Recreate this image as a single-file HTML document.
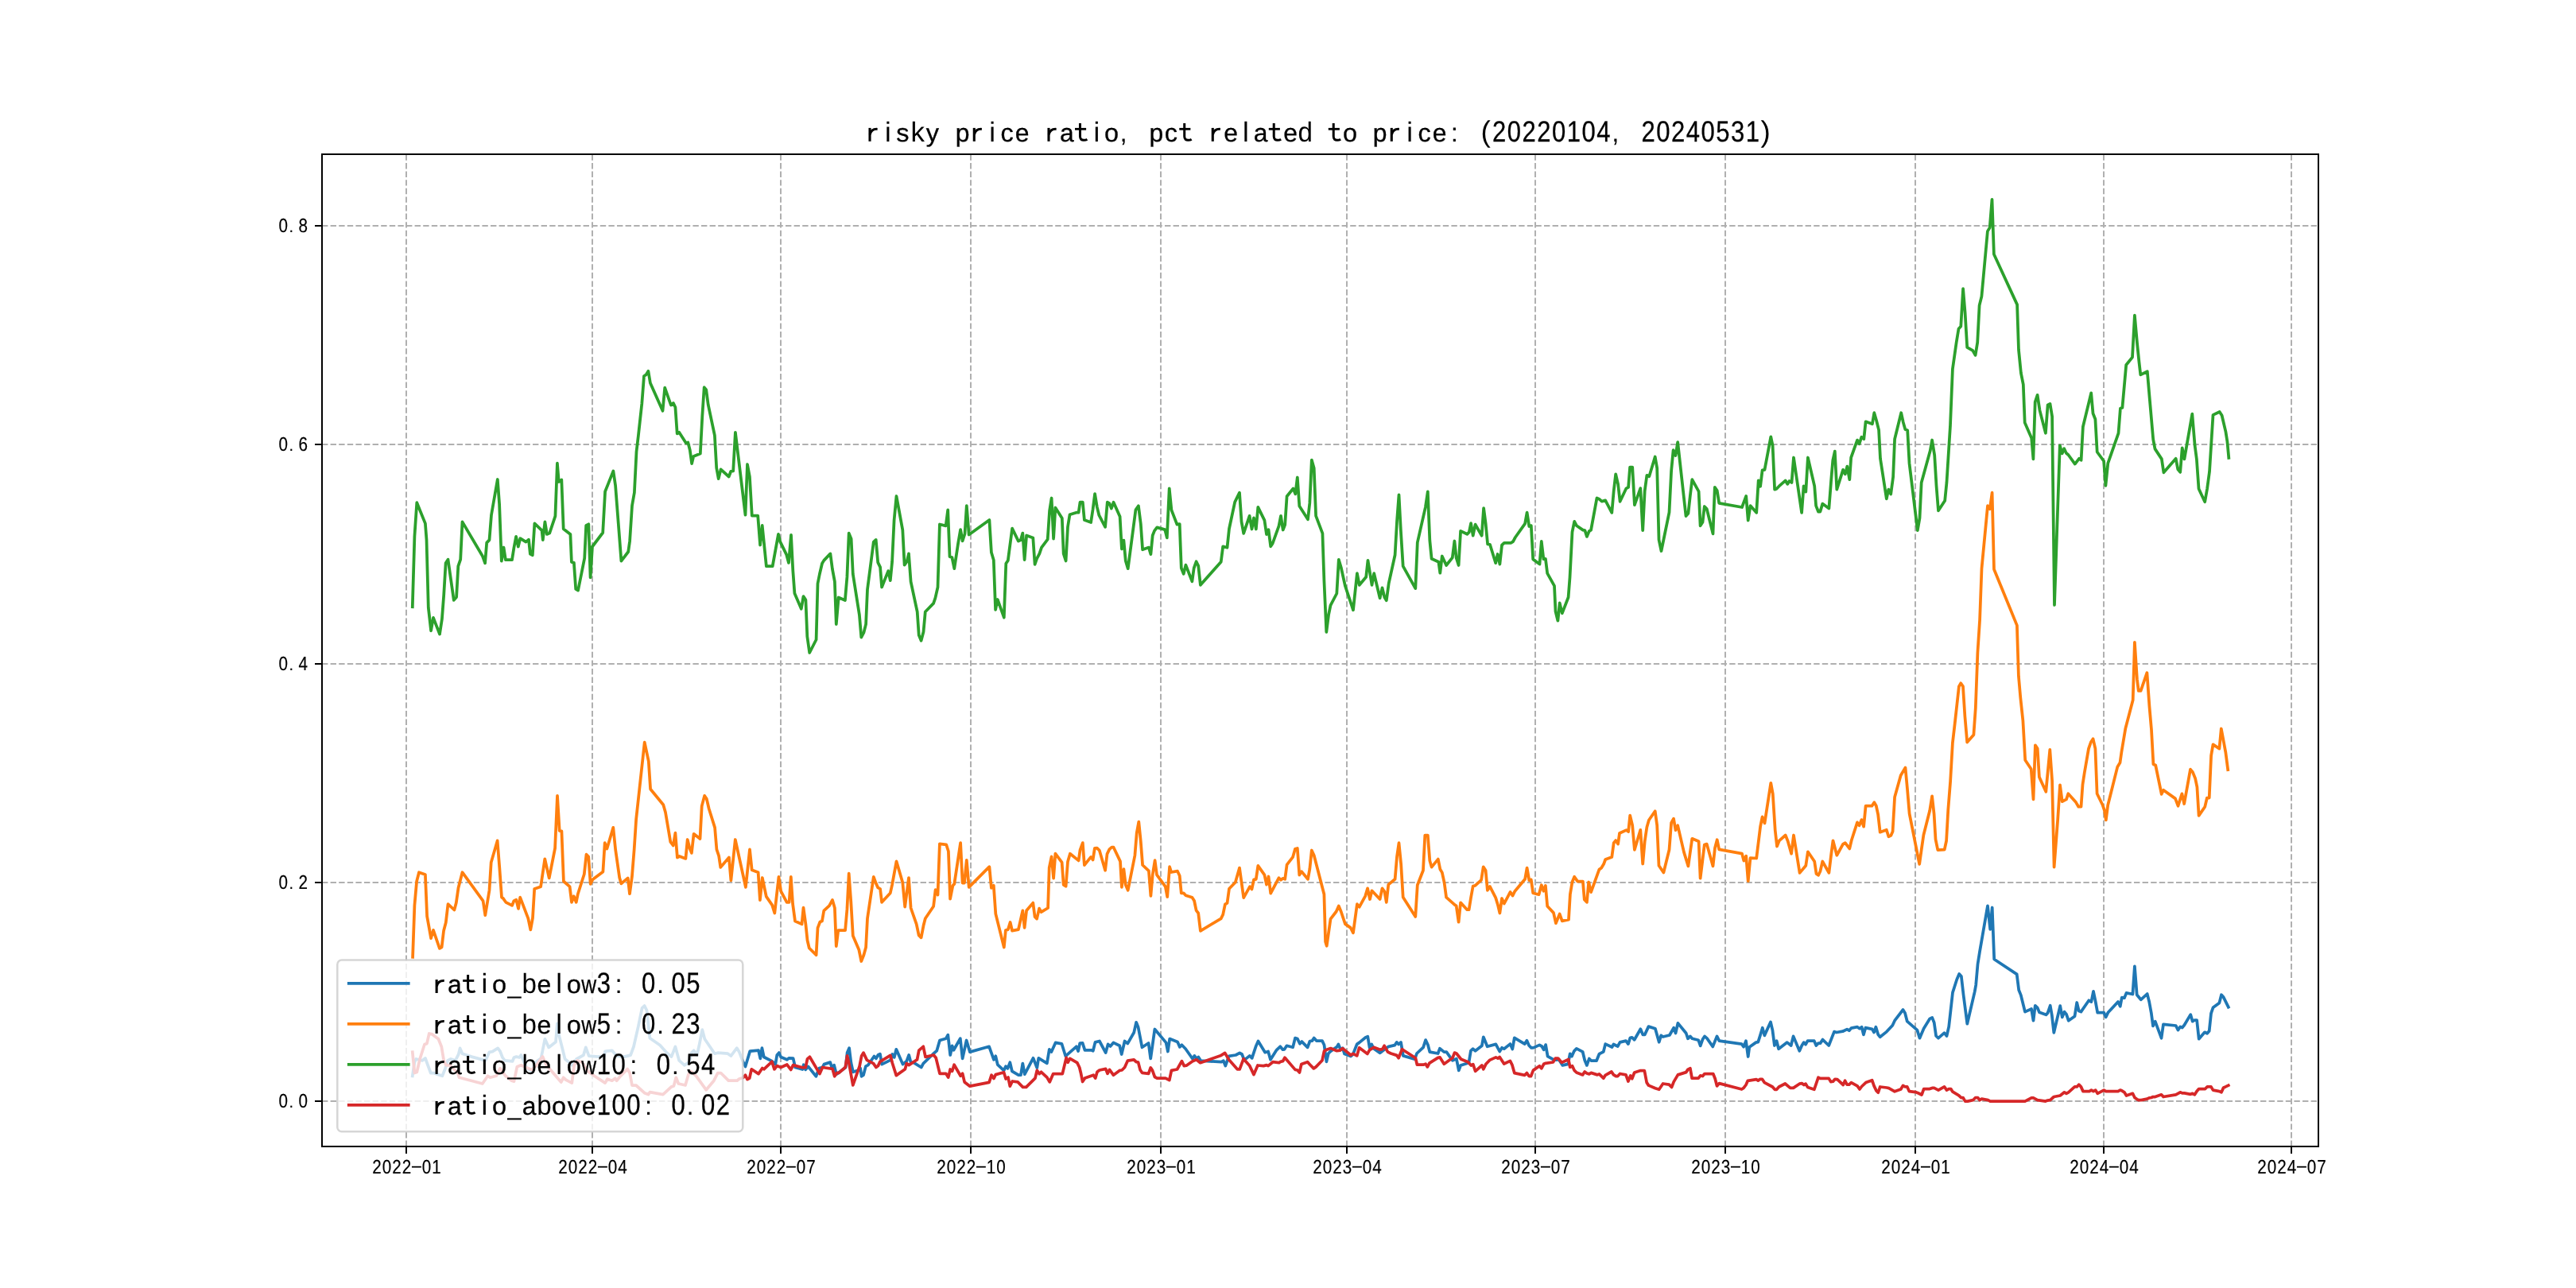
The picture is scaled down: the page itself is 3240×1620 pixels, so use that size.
<!DOCTYPE html>
<html><head><meta charset="utf-8"><title>chart</title>
<style>html,body{margin:0;padding:0;background:#fff;}body{width:3240px;height:1620px;overflow:hidden;font-family:"Liberation Sans",sans-serif;}svg{display:block;}text{text-rendering:geometricPrecision;}svg{will-change:transform;opacity:0.999;}</style></head>
<body>
<svg width="3240" height="1620" viewBox="0 0 3240 1620" font-family="Liberation Sans, sans-serif">
<rect x="0" y="0" width="3240" height="1620" fill="#ffffff"/>
<line x1="511.00" y1="1442.0" x2="511.00" y2="194.0" stroke="#b0b0b0" stroke-width="2" stroke-dasharray="7.4 3.2" fill="none"/>
<line x1="745.00" y1="1442.0" x2="745.00" y2="194.0" stroke="#b0b0b0" stroke-width="2" stroke-dasharray="7.4 3.2" fill="none"/>
<line x1="982.00" y1="1442.0" x2="982.00" y2="194.0" stroke="#b0b0b0" stroke-width="2" stroke-dasharray="7.4 3.2" fill="none"/>
<line x1="1221.00" y1="1442.0" x2="1221.00" y2="194.0" stroke="#b0b0b0" stroke-width="2" stroke-dasharray="7.4 3.2" fill="none"/>
<line x1="1460.00" y1="1442.0" x2="1460.00" y2="194.0" stroke="#b0b0b0" stroke-width="2" stroke-dasharray="7.4 3.2" fill="none"/>
<line x1="1694.00" y1="1442.0" x2="1694.00" y2="194.0" stroke="#b0b0b0" stroke-width="2" stroke-dasharray="7.4 3.2" fill="none"/>
<line x1="1931.00" y1="1442.0" x2="1931.00" y2="194.0" stroke="#b0b0b0" stroke-width="2" stroke-dasharray="7.4 3.2" fill="none"/>
<line x1="2170.00" y1="1442.0" x2="2170.00" y2="194.0" stroke="#b0b0b0" stroke-width="2" stroke-dasharray="7.4 3.2" fill="none"/>
<line x1="2409.00" y1="1442.0" x2="2409.00" y2="194.0" stroke="#b0b0b0" stroke-width="2" stroke-dasharray="7.4 3.2" fill="none"/>
<line x1="2646.00" y1="1442.0" x2="2646.00" y2="194.0" stroke="#b0b0b0" stroke-width="2" stroke-dasharray="7.4 3.2" fill="none"/>
<line x1="2882.00" y1="1442.0" x2="2882.00" y2="194.0" stroke="#b0b0b0" stroke-width="2" stroke-dasharray="7.4 3.2" fill="none"/>
<line x1="405.0" y1="1385.00" x2="2916.0" y2="1385.00" stroke="#b0b0b0" stroke-width="2" stroke-dasharray="7.4 3.2" fill="none"/>
<line x1="405.0" y1="1110.00" x2="2916.0" y2="1110.00" stroke="#b0b0b0" stroke-width="2" stroke-dasharray="7.4 3.2" fill="none"/>
<line x1="405.0" y1="835.00" x2="2916.0" y2="835.00" stroke="#b0b0b0" stroke-width="2" stroke-dasharray="7.4 3.2" fill="none"/>
<line x1="405.0" y1="559.00" x2="2916.0" y2="559.00" stroke="#b0b0b0" stroke-width="2" stroke-dasharray="7.4 3.2" fill="none"/>
<line x1="405.0" y1="284.00" x2="2916.0" y2="284.00" stroke="#b0b0b0" stroke-width="2" stroke-dasharray="7.4 3.2" fill="none"/>
<clipPath id="ax"><rect x="405.0" y="194.0" width="2511.0" height="1248.0"/></clipPath>
<g clip-path="url(#ax)">
<polyline points="518.8,1353.3 521.4,1335.9 523.3,1332.0 531.1,1333.9 534.9,1331.0 541.7,1349.5 545.6,1349.5 550.5,1351.4 556.3,1353.3 560.2,1343.6 563.1,1333.9 567.0,1332.0 572.8,1333.9 576.7,1326.2 578.6,1318.4 581.5,1325.2 593.2,1329.1 610.6,1333.9 615.5,1323.3 619.4,1322.7 626.2,1318.4 629.1,1322.3 632.0,1330.0 634.9,1333.9 644.6,1334.9 646.5,1330.0 649.5,1329.1 653.3,1330.0 655.3,1327.1 660.1,1337.8 663.0,1343.6 668.9,1347.5 673.7,1335.9 680.5,1331.0 685.4,1306.8 690.2,1317.4 699.0,1310.6 700.9,1287.3 702.8,1300.9 707.7,1320.3 710.6,1332.0 715.5,1335.9 719.3,1339.8 725.2,1332.0 733.9,1327.1 736.8,1317.4 740.7,1328.1 752.3,1329.1 760.1,1328.1 761.1,1322.3 769.8,1321.3 775.6,1328.1 785.3,1329.1 793.1,1327.1 797.0,1316.5 802.8,1291.2 807.6,1267.9 810.6,1265.0 813.5,1270.8 817.4,1305.8 830.0,1314.5 838.7,1324.2 844.5,1329.1 849.4,1316.5 854.2,1333.9 861.0,1339.8 866.8,1335.9 869.8,1324.2 872.7,1321.3 876.6,1327.1 879.5,1314.5 883.3,1295.1 886.3,1306.8 898.9,1325.2 902.8,1324.2 915.4,1325.2 919.3,1328.1 926.8,1318.2 929.9,1323.3 934.6,1335.7 937.5,1341.5 940.4,1331.8 943.3,1322.1 954.0,1321.1 956.3,1331.4 958.4,1318.2 960.8,1329.5 970.9,1334.7 975.3,1338.6 977.3,1327.0 979.8,1324.1 982.1,1329.5 989.9,1332.8 992.2,1330.8 997.6,1331.2 1000.2,1342.5 1009.3,1345.0 1010.8,1339.2 1013.2,1345.4 1016.5,1341.5 1026.4,1353.8 1030.2,1343.5 1034.5,1342.5 1036.5,1338.6 1044.2,1336.1 1046.7,1343.9 1049.1,1339.6 1052.0,1351.2 1063.6,1342.5 1065.6,1324.1 1068.1,1318.2 1070.4,1336.7 1073.0,1348.3 1079.2,1346.4 1082.1,1343.5 1083.6,1353.8 1086.0,1352.2 1088.9,1341.1 1091.8,1339.6 1099.5,1328.5 1101.9,1331.4 1104.4,1327.0 1106.9,1325.6 1109.2,1338.6 1119.9,1333.4 1122.4,1326.0 1124.8,1329.9 1127.3,1319.8 1135.5,1338.6 1140.3,1334.7 1143.2,1327.0 1145.7,1336.7 1148.6,1336.1 1158.7,1342.5 1161.3,1337.6 1173.3,1326.0 1178.2,1321.7 1182.0,1308.5 1189.8,1306.2 1192.3,1301.7 1195.2,1327.0 1197.6,1315.3 1199.5,1320.8 1207.8,1306.2 1210.6,1331.4 1215.6,1308.5 1219.9,1323.1 1244.1,1316.3 1250.0,1332.8 1252.3,1328.3 1254.8,1339.2 1262.6,1346.4 1265.1,1341.1 1267.4,1343.9 1270.3,1336.3 1272.9,1347.3 1281.0,1352.2 1283.9,1352.2 1286.3,1337.6 1288.8,1351.2 1299.5,1330.8 1304.3,1343.1 1306.3,1330.8 1316.9,1337.3 1319.8,1319.8 1322.4,1323.1 1327.6,1311.4 1335.4,1312.8 1340.2,1328.3 1353.8,1316.3 1356.1,1322.1 1358.3,1312.0 1361.6,1311.8 1364.5,1320.8 1372.3,1320.8 1374.8,1321.7 1377.5,1310.9 1382.9,1309.5 1390.7,1324.1 1393.6,1313.4 1396.5,1315.9 1400.4,1311.4 1408.2,1315.3 1410.7,1326.0 1414.6,1309.5 1418.4,1312.4 1426.2,1298.8 1429.1,1285.8 1431.6,1292.0 1436.5,1317.3 1444.6,1312.0 1447.2,1331.4 1452.4,1294.5 1466.6,1311.4 1468.9,1322.5 1471.2,1306.6 1481.1,1310.5 1483.9,1316.9 1486.4,1314.3 1491.2,1319.2 1500.0,1331.8 1502.3,1327.9 1504.8,1331.4 1507.3,1329.5 1510.2,1334.1 1535.9,1335.7 1538.8,1334.3 1541.3,1340.6 1545.6,1328.3 1554.3,1327.0 1559.2,1324.4 1562.1,1326.0 1565.0,1333.4 1571.8,1327.9 1574.7,1330.8 1579.5,1316.3 1582.5,1309.5 1591.2,1323.7 1595.1,1322.5 1598.0,1332.8 1605.7,1320.6 1610.2,1316.3 1613.5,1320.2 1615.5,1319.8 1618.4,1315.3 1626.1,1317.3 1629.0,1305.6 1631.9,1306.6 1634.9,1312.8 1637.4,1310.1 1644.6,1317.3 1647.5,1309.5 1650.4,1309.1 1652.7,1305.6 1655.8,1309.1 1663.0,1309.1 1665.5,1314.3 1668.4,1335.3 1670.8,1325.0 1673.7,1322.1 1681.4,1316.9 1683.4,1313.4 1686.3,1320.2 1688.8,1318.2 1691.1,1325.6 1698.9,1328.5 1701.8,1326.0 1706.7,1313.4 1709.6,1311.4 1717.4,1305.0 1720.3,1303.7 1722.6,1317.8 1725.1,1313.4 1727.6,1318.6 1735.8,1324.4 1738.7,1322.1 1746.5,1316.3 1754.2,1314.7 1756.8,1310.9 1759.1,1313.4 1762.0,1310.9 1764.9,1327.9 1779.5,1332.2 1782.0,1325.0 1790.1,1317.3 1793.1,1308.1 1796.0,1314.3 1798.3,1323.1 1808.6,1325.0 1810.9,1318.8 1816.3,1323.1 1819.3,1323.1 1827.0,1333.8 1831.9,1331.8 1834.8,1346.4 1837.1,1340.0 1847.4,1336.7 1849.9,1321.7 1852.6,1319.2 1855.6,1321.7 1863.9,1315.3 1865.8,1304.3 1870.7,1316.3 1881.4,1313.4 1886.2,1322.5 1889.1,1317.8 1891.7,1319.2 1899.4,1313.1 1902.3,1319.5 1904.8,1305.3 1917.8,1313.1 1920.4,1308.8 1923.1,1315.0 1926.0,1317.9 1928.5,1317.9 1936.3,1314.4 1939.2,1316.0 1941.7,1320.3 1944.1,1314.1 1946.6,1328.6 1954.7,1333.1 1957.6,1333.1 1960.6,1332.5 1965.4,1339.9 1972.2,1338.3 1974.7,1325.3 1977.0,1328.6 1980.0,1321.8 1982.9,1318.9 1990.6,1322.8 1993.2,1333.5 1995.9,1339.9 1998.8,1331.5 2001.3,1334.0 2008.1,1334.0 2011.4,1325.7 2016.8,1322.8 2019.2,1313.1 2027.5,1317.0 2029.5,1313.5 2034.7,1316.0 2037.6,1310.8 2045.0,1309.2 2047.9,1313.1 2050.4,1305.3 2052.7,1304.9 2055.7,1307.8 2063.4,1294.3 2066.3,1301.4 2068.7,1301.4 2073.5,1291.1 2081.9,1293.7 2086.7,1310.8 2089.2,1302.4 2091.6,1304.0 2099.9,1302.0 2105.2,1292.7 2107.5,1299.5 2110.4,1286.9 2120.7,1299.5 2123.0,1306.3 2125.9,1303.4 2128.4,1306.3 2136.2,1308.2 2138.7,1315.4 2141.5,1307.3 2144.0,1303.4 2146.9,1305.9 2154.3,1316.4 2159.5,1303.4 2162.4,1309.2 2190.6,1313.1 2193.1,1316.6 2196.0,1309.2 2198.7,1329.0 2200.3,1317.0 2208.6,1311.1 2211.3,1310.6 2213.9,1302.4 2216.8,1292.7 2219.3,1302.4 2227.0,1285.5 2229.4,1295.6 2231.9,1315.0 2234.6,1309.2 2237.1,1319.3 2247.8,1311.1 2252.7,1315.0 2255.6,1303.4 2263.3,1321.8 2266.3,1315.0 2268.8,1311.1 2271.1,1313.7 2273.6,1309.2 2281.8,1309.2 2284.3,1315.0 2287.0,1312.1 2289.5,1312.1 2292.5,1307.6 2300.2,1315.0 2307.0,1297.6 2309.9,1298.5 2317.7,1297.2 2323.1,1294.6 2325.8,1296.2 2328.4,1293.1 2336.1,1291.7 2339.0,1293.7 2341.6,1291.7 2343.9,1301.4 2346.4,1292.7 2354.6,1294.3 2357.1,1298.5 2359.4,1291.7 2362.3,1301.4 2364.7,1304.3 2373.0,1297.6 2380.3,1289.7 2383.1,1283.7 2393.5,1270.0 2396.1,1274.2 2398.8,1284.7 2411.4,1295.6 2414.5,1305.7 2419.7,1293.5 2427.1,1281.4 2430.2,1279.9 2432.7,1286.2 2435.1,1303.0 2438.0,1305.7 2445.5,1299.2 2448.5,1303.0 2451.2,1291.4 2456.0,1248.4 2461.3,1231.7 2464.2,1225.0 2466.9,1228.1 2469.6,1251.6 2474.3,1287.7 2483.7,1247.4 2485.2,1239.0 2487.5,1212.8 2490.0,1197.1 2500.0,1139.4 2503.2,1168.8 2505.7,1141.5 2508.2,1206.5 2536.7,1225.4 2539.2,1245.3 2541.8,1251.6 2547.0,1272.6 2555.0,1269.0 2557.5,1283.7 2559.8,1264.8 2562.7,1267.7 2565.0,1273.2 2573.4,1276.3 2575.5,1274.2 2578.7,1264.8 2580.8,1276.8 2583.3,1298.8 2591.2,1265.2 2593.8,1279.3 2596.5,1272.6 2599.0,1275.7 2601.7,1283.7 2609.5,1278.2 2612.2,1261.0 2614.7,1271.5 2617.4,1272.6 2627.3,1258.3 2630.4,1260.0 2633.0,1246.8 2635.7,1260.0 2638.2,1273.6 2646.2,1273.6 2648.7,1279.3 2651.4,1273.6 2664.0,1260.0 2666.7,1265.8 2668.8,1254.7 2671.9,1255.2 2674.5,1248.9 2682.4,1250.5 2684.9,1215.3 2687.7,1251.2 2692.7,1257.3 2700.7,1250.1 2703.2,1260.0 2705.9,1274.7 2708.0,1290.4 2710.7,1284.7 2718.5,1305.7 2721.0,1288.3 2736.7,1290.0 2739.5,1295.6 2742.2,1291.4 2744.7,1292.5 2747.4,1289.3 2755.2,1276.1 2757.7,1284.7 2760.4,1283.0 2763.1,1283.0 2765.7,1306.7 2773.0,1298.3 2776.1,1299.8 2778.7,1296.7 2781.0,1274.7 2783.5,1267.3 2791.4,1261.4 2794.0,1251.2 2796.7,1254.3 2802.8,1266.7" fill="none" stroke="#1f77b4" stroke-width="3.75" stroke-linejoin="round" stroke-linecap="square" />
<polyline points="519.1,1203.7 521.4,1138.9 524.1,1108.5 527.0,1097.2 534.9,1099.9 537.1,1152.4 542.1,1180.1 545.0,1169.9 552.9,1192.9 555.6,1191.3 558.1,1170.4 560.8,1160.3 563.5,1137.1 571.4,1144.5 573.8,1135.5 576.5,1116.8 581.5,1097.2 607.6,1133.2 610.3,1151.2 615.5,1119.7 617.7,1084.8 625.6,1057.4 628.3,1091.6 631.0,1128.7 632.8,1129.9 636.2,1134.8 644.1,1138.9 646.3,1133.2 649.3,1131.7 652.0,1142.9 654.2,1128.7 664.3,1155.1 667.3,1169.3 670.0,1154.6 672.2,1117.9 680.1,1115.2 685.3,1080.3 690.7,1104.4 698.1,1066.8 701.0,1000.9 703.7,1045.0 706.4,1045.4 708.9,1108.5 716.6,1115.2 719.0,1134.8 721.7,1127.2 724.7,1134.8 726.9,1124.2 734.8,1099.5 737.5,1074.7 740.2,1077.6 742.7,1111.9 745.4,1106.2 758.4,1096.5 760.7,1060.1 763.4,1067.5 771.3,1040.9 774.2,1069.1 779.2,1104.0 781.4,1111.4 789.7,1104.4 792.0,1124.2 794.9,1102.8 797.6,1069.1 800.1,1030.8 810.7,933.6 815.8,957.6 818.1,992.5 834.3,1012.3 837.0,1021.8 843.3,1058.9 846.7,1063.5 849.4,1047.7 851.9,1078.5 854.6,1077.0 862.4,1079.9 864.7,1056.0 867.4,1066.8 869.9,1072.9 872.6,1048.8 880.5,1054.9 882.7,1013.9 886.1,1000.9 888.8,1004.9 891.7,1017.3 899.1,1040.9 901.4,1068.4 904.1,1076.3 906.3,1090.9 916.9,1078.5 919.4,1107.4 924.8,1056.0 937.9,1115.9 943.0,1068.4 945.7,1094.3 953.6,1097.2 955.9,1132.1 958.8,1104.0 963.8,1127.6 971.2,1138.4 974.3,1148.5 979.5,1102.8 982.2,1120.9 989.6,1134.8 992.6,1134.8 994.8,1102.8 997.1,1137.1 1000.0,1158.5 1008.5,1162.4 1010.5,1141.6 1013.4,1162.4 1015.5,1182.7 1017.8,1192.5 1026.6,1201.2 1028.5,1167.2 1031.4,1159.5 1034.0,1158.5 1036.3,1145.3 1043.1,1139.1 1047.0,1131.9 1049.9,1142.0 1051.8,1190.1 1054.3,1170.1 1063.1,1170.1 1065.4,1143.9 1067.7,1098.7 1070.3,1134.2 1072.8,1176.9 1080.3,1194.4 1083.3,1209.0 1086.4,1201.2 1089.1,1191.5 1091.0,1155.2 1098.8,1102.8 1101.7,1110.9 1104.2,1116.4 1107.1,1118.1 1109.1,1134.8 1119.8,1123.2 1122.1,1112.9 1127.5,1083.4 1135.3,1110.0 1138.2,1140.6 1143.0,1104.1 1145.6,1142.0 1152.7,1162.4 1155.7,1176.5 1158.6,1179.3 1161.5,1164.3 1163.8,1155.2 1174.1,1140.0 1176.6,1119.1 1179.5,1125.5 1181.9,1061.4 1190.2,1062.4 1192.9,1070.8 1195.1,1130.7 1198.4,1113.8 1200.3,1111.9 1208.1,1060.1 1210.6,1110.5 1212.9,1110.5 1215.8,1081.8 1218.7,1115.8 1244.4,1090.2 1246.9,1116.8 1249.8,1113.8 1252.3,1149.4 1262.8,1191.5 1264.9,1170.1 1267.8,1169.2 1270.6,1160.0 1273.1,1170.7 1280.9,1169.2 1286.3,1145.3 1288.6,1166.8 1291.1,1145.3 1299.3,1135.6 1301.6,1153.2 1304.1,1155.6 1307.1,1142.6 1309.6,1147.2 1318.1,1142.0 1319.7,1091.5 1322.6,1077.5 1325.1,1104.7 1327.4,1073.7 1335.6,1084.7 1337.7,1112.9 1340.6,1114.8 1343.0,1083.8 1345.9,1073.7 1356.6,1082.4 1358.5,1069.2 1361.8,1060.1 1363.9,1088.2 1372.1,1077.9 1374.6,1081.4 1376.9,1066.9 1379.8,1066.7 1382.8,1069.6 1390.1,1094.8 1392.5,1074.1 1395.4,1068.2 1398.3,1065.7 1400.6,1065.7 1409.0,1083.4 1410.9,1115.8 1413.4,1093.1 1415.8,1112.9 1418.7,1119.7 1427.4,1076.0 1429.7,1047.8 1432.3,1033.7 1434.8,1058.5 1437.1,1088.0 1444.9,1095.4 1447.4,1126.8 1449.7,1100.3 1452.6,1082.2 1455.0,1100.3 1465.8,1115.2 1468.2,1128.0 1471.1,1090.2 1473.2,1097.0 1481.0,1095.7 1483.7,1101.5 1485.8,1123.3 1488.7,1123.3 1491.4,1126.2 1499.4,1128.7 1502.1,1133.0 1504.6,1145.2 1507.2,1148.5 1509.9,1170.8 1535.7,1155.3 1538.2,1150.4 1540.9,1137.4 1543.5,1135.9 1546.0,1117.8 1553.8,1109.7 1559.0,1091.6 1564.2,1129.1 1572.0,1115.1 1574.5,1118.4 1577.0,1106.4 1579.8,1105.8 1582.3,1088.9 1590.4,1100.3 1593.0,1112.6 1595.5,1102.5 1598.2,1123.6 1608.5,1104.2 1611.0,1106.8 1613.7,1104.8 1616.2,1105.8 1618.6,1087.7 1626.0,1078.2 1628.9,1067.9 1631.8,1067.0 1634.3,1100.5 1637.0,1096.1 1645.0,1105.8 1647.3,1093.2 1649.8,1069.5 1652.7,1075.7 1665.4,1124.8 1667.1,1184.4 1668.7,1189.8 1673.5,1155.9 1680.7,1146.5 1683.8,1139.4 1686.7,1146.5 1691.9,1162.1 1698.7,1166.9 1702.0,1173.3 1706.9,1137.2 1709.8,1140.7 1717.2,1127.1 1720.1,1117.4 1723.0,1131.0 1725.5,1120.3 1735.6,1131.0 1738.5,1117.4 1741.4,1121.3 1743.8,1134.9 1746.3,1112.6 1754.6,1105.8 1757.0,1077.6 1759.5,1060.2 1762.2,1087.3 1764.7,1128.5 1780.3,1153.0 1782.8,1113.2 1790.0,1094.7 1792.3,1050.5 1795.8,1050.5 1798.3,1082.5 1800.6,1090.6 1808.8,1080.6 1811.3,1093.2 1813.8,1097.4 1816.6,1110.2 1819.1,1128.7 1829.8,1138.2 1831.7,1139.4 1834.6,1159.7 1837.1,1135.3 1845.3,1144.2 1847.6,1144.2 1850.1,1128.7 1852.7,1114.5 1855.4,1113.9 1863.1,1106.8 1865.7,1090.3 1868.6,1094.7 1870.9,1119.8 1874.0,1115.1 1881.2,1129.1 1884.1,1138.8 1886.4,1148.5 1889.0,1130.0 1891.9,1136.5 1899.6,1121.9 1902.5,1126.6 1905.5,1120.7 1918.1,1105.8 1920.6,1091.6 1923.3,1107.1 1925.8,1106.4 1928.2,1123.3 1935.5,1125.2 1938.8,1113.2 1941.4,1120.7 1943.9,1113.9 1946.2,1139.8 1954.0,1148.1 1956.9,1161.2 1961.7,1149.5 1964.8,1158.3 1973.0,1156.7 1974.9,1124.7 1977.5,1109.2 1980.2,1102.8 1984.3,1108.6 1990.9,1108.6 1992.8,1131.5 1995.9,1134.8 1998.2,1109.5 2001.1,1122.2 2011.4,1093.6 2014.1,1091.7 2017.1,1086.8 2019.2,1081.0 2027.3,1078.1 2029.7,1060.2 2032.2,1057.1 2035.1,1061.6 2037.0,1048.0 2045.4,1044.1 2048.1,1046.1 2050.2,1025.7 2053.2,1038.3 2055.9,1068.8 2063.3,1043.8 2066.2,1086.5 2068.7,1058.3 2071.4,1040.3 2073.9,1031.5 2081.7,1020.3 2084.2,1038.3 2086.5,1088.8 2092.4,1097.5 2099.5,1068.8 2102.1,1034.8 2105.0,1029.6 2107.5,1044.1 2110.2,1038.3 2118.0,1071.9 2123.4,1089.4 2125.8,1072.3 2128.3,1054.8 2136.6,1058.3 2138.6,1104.7 2143.8,1062.6 2146.7,1061.6 2154.5,1089.4 2157.0,1066.5 2159.7,1056.2 2162.2,1068.4 2191.0,1073.6 2193.3,1082.6 2196.2,1076.6 2198.7,1108.2 2201.5,1079.1 2209.2,1079.5 2214.1,1039.7 2216.6,1027.3 2219.5,1035.4 2227.3,984.9 2229.8,998.5 2232.7,1044.1 2235.0,1064.5 2237.9,1057.3 2245.7,1050.5 2248.6,1057.7 2253.1,1073.8 2256.0,1050.5 2263.6,1097.9 2271.3,1088.8 2273.9,1071.3 2282.2,1083.5 2284.5,1098.9 2287.0,1100.8 2289.4,1096.0 2292.3,1083.5 2300.4,1097.9 2303.0,1076.2 2305.5,1057.3 2310.3,1075.8 2318.1,1061.6 2320.8,1060.2 2326.3,1067.4 2328.8,1056.8 2336.0,1034.4 2338.5,1038.3 2341.4,1031.1 2344.1,1039.7 2346.6,1013.7 2354.4,1013.7 2357.3,1009.2 2359.8,1013.5 2362.2,1024.7 2364.7,1046.7 2372.8,1043.8 2375.4,1052.3 2378.3,1050.9 2380.6,1045.7 2383.1,1002.4 2390.7,975.2 2396.5,965.5 2399.0,992.7 2401.6,1023.4 2414.2,1086.8 2416.9,1067.4 2419.4,1050.3 2427.2,1019.5 2430.1,1001.4 2432.6,1024.0 2434.5,1055.7 2437.3,1069.1 2445.7,1068.7 2448.1,1057.5 2450.3,1018.4 2453.1,983.0 2455.9,934.5 2458.7,910.3 2463.9,863.4 2466.2,859.3 2469.0,863.4 2471.4,901.0 2474.2,933.6 2482.4,924.3 2484.8,890.7 2487.4,820.9 2490.1,779.6 2492.5,715.0 2500.0,636.2 2502.8,640.3 2505.6,619.7 2508.0,716.0 2536.9,786.6 2538.9,850.2 2541.3,877.7 2544.4,906.6 2547.2,956.0 2554.7,967.2 2557.5,1005.4 2559.9,937.3 2562.7,941.6 2564.9,977.4 2573.3,995.7 2578.3,942.9 2581.1,982.1 2583.6,1090.7 2588.2,1030.5 2591.0,987.3 2593.8,1008.2 2599.0,1005.4 2601.3,998.3 2611.0,1009.1 2614.3,1014.7 2617.5,1014.7 2619.5,986.7 2621.8,971.8 2627.0,941.6 2629.8,933.6 2632.6,929.3 2635.4,941.6 2637.6,998.3 2644.7,1012.8 2646.9,1019.3 2648.8,1031.4 2651.2,1012.8 2663.3,964.4 2666.5,959.3 2668.4,945.7 2673.4,915.9 2682.7,880.5 2684.9,807.8 2687.9,854.2 2689.8,868.9 2692.6,868.9 2700.4,846.2 2703.4,888.0 2706.0,917.8 2708.4,961.2 2711.2,962.5 2718.7,998.8 2721.1,993.8 2736.0,1004.4 2739.5,1013.7 2744.4,998.3 2747.2,1011.0 2755.0,967.7 2757.8,970.9 2761.2,979.3 2763.4,989.9 2765.6,1025.9 2773.3,1014.7 2775.9,1003.5 2778.7,1003.5 2781.1,950.4 2783.5,936.4 2791.4,941.6 2793.8,916.5 2799.4,946.7 2802.2,968.1" fill="none" stroke="#ff7f0e" stroke-width="3.75" stroke-linejoin="round" stroke-linecap="square" />
<polyline points="518.8,763.3 521.4,674.9 524.3,632.2 534.9,658.4 536.5,678.8 538.8,764.2 542.1,793.3 545.0,776.8 553.0,797.6 555.9,778.8 558.2,748.7 560.6,708.3 563.5,703.7 570.8,754.9 574.1,751.0 576.3,712.2 579.2,703.7 581.5,656.4 606.8,699.2 610.1,708.3 612.2,682.6 615.5,679.1 618.0,647.7 625.8,603.0 628.1,634.1 630.8,705.6 633.5,688.5 635.9,704.1 644.0,704.1 646.5,688.5 649.1,674.9 651.8,687.5 654.3,677.2 661.5,681.7 665.0,678.7 666.9,696.9 669.8,698.2 672.4,658.4 681.5,667.1 682.8,679.1 685.4,656.4 687.9,671.9 691.2,670.6 698.4,649.2 700.9,582.7 702.8,606.0 706.3,603.4 708.7,665.2 717.4,671.9 718.9,707.0 721.9,707.9 724.2,740.9 727.1,742.5 735.2,702.1 737.2,660.9 740.3,659.3 742.6,726.4 745.0,687.5 758.2,670.0 761.1,618.2 771.4,592.4 774.1,610.8 781.4,705.6 790.2,694.0 792.1,680.7 795.0,636.0 797.9,619.5 800.5,568.1 802.8,548.7 807.3,507.9 810.0,473.0 812.5,471.4 815.4,466.8 817.9,481.7 833.5,516.7 836.2,487.6 843.9,509.5 846.9,507.0 849.4,512.2 851.7,545.4 854.2,543.8 863.0,557.4 865.3,556.5 867.8,566.2 870.1,583.1 872.3,573.9 880.8,570.6 883.3,523.5 885.7,487.2 888.2,490.1 890.7,508.9 898.9,547.7 901.2,588.5 903.7,602.1 906.6,590.4 916.7,599.5 919.3,592.8 922.2,592.4 924.9,543.8 937.5,647.7 940.0,584.0 942.9,599.5 945.8,648.7 953.2,648.7 956.1,685.5 958.7,660.9 963.9,712.2 971.7,712.2 979.0,671.9 981.4,681.7 989.1,697.3 992.0,707.9 995.0,672.9 997.3,717.6 999.4,746.2 1007.8,765.7 1010.5,750.1 1013.4,754.6 1015.3,800.6 1018.2,821.0 1026.6,804.5 1028.5,734.0 1030.9,722.0 1034.0,708.8 1036.3,704.9 1044.4,696.4 1047.0,716.2 1049.9,731.7 1051.8,785.1 1054.7,751.5 1062.9,755.0 1065.4,725.9 1067.7,670.6 1070.6,677.7 1072.8,722.0 1080.9,773.4 1083.3,801.6 1086.4,795.7 1089.1,785.1 1091.0,741.4 1098.8,681.6 1101.7,678.9 1104.2,707.4 1107.1,713.3 1109.1,738.5 1117.2,718.1 1119.8,730.1 1122.1,706.5 1124.6,654.1 1127.5,624.0 1135.3,666.7 1137.6,710.7 1140.7,706.1 1143.0,696.4 1145.6,731.7 1153.7,769.5 1155.7,798.7 1158.6,805.8 1161.5,794.8 1163.8,769.5 1174.1,758.9 1176.4,752.1 1179.5,738.5 1181.9,659.5 1189.6,661.4 1192.2,641.4 1194.5,700.2 1197.4,701.0 1200.3,715.2 1205.2,682.8 1208.1,666.1 1210.6,680.3 1213.5,671.5 1215.8,636.2 1218.7,672.5 1244.4,654.1 1246.9,694.8 1249.8,704.5 1252.1,767.0 1254.7,754.0 1262.8,776.7 1265.3,708.8 1267.8,704.9 1273.1,664.7 1280.9,680.6 1283.8,679.3 1286.3,670.6 1288.6,704.1 1291.1,673.5 1299.3,676.4 1301.6,709.8 1304.1,702.6 1307.4,696.4 1310.0,688.6 1317.7,678.3 1320.1,642.4 1322.6,626.5 1325.1,677.7 1327.4,638.5 1335.8,651.7 1337.7,696.4 1340.6,705.5 1343.0,662.8 1345.5,647.3 1353.6,644.7 1356.6,644.7 1358.5,631.7 1361.8,631.7 1363.9,654.1 1372.1,657.0 1374.6,640.5 1377.1,621.1 1379.8,637.6 1382.4,648.2 1390.1,662.8 1392.8,631.7 1395.4,633.1 1397.9,639.5 1400.6,631.7 1408.6,649.8 1410.9,690.5 1413.4,679.7 1415.8,705.5 1418.7,715.2 1428.4,641.4 1431.9,636.2 1434.8,658.9 1437.1,691.3 1444.9,688.6 1447.4,697.1 1449.7,673.5 1452.0,667.6 1455.2,663.4 1465.2,666.1 1467.8,676.4 1470.7,614.3 1473.4,641.4 1480.4,659.7 1483.7,659.1 1485.8,714.5 1488.7,721.8 1491.4,710.6 1499.4,731.3 1501.7,714.5 1504.6,706.3 1507.2,711.5 1509.9,735.8 1535.7,706.7 1538.2,687.3 1543.5,688.8 1546.0,665.0 1553.2,631.4 1559.0,619.7 1561.5,656.2 1564.2,670.8 1571.6,648.9 1574.5,665.5 1577.0,651.4 1579.8,665.5 1582.3,637.8 1590.4,654.3 1593.0,672.1 1595.5,666.3 1598.2,687.3 1600.7,683.4 1608.5,661.7 1611.0,648.9 1613.7,666.5 1616.2,660.1 1618.6,624.2 1626.5,614.5 1629.3,621.3 1631.8,600.5 1634.3,636.4 1645.0,653.3 1647.3,632.9 1649.8,578.6 1652.7,588.7 1655.1,648.9 1663.4,670.8 1665.4,730.0 1668.3,795.0 1671.0,773.7 1673.5,761.4 1681.3,746.5 1683.8,703.8 1686.7,713.5 1691.9,736.8 1702.0,767.3 1706.9,721.2 1709.8,735.8 1718.2,725.7 1720.5,704.8 1725.5,735.8 1728.2,721.2 1735.6,752.3 1738.5,739.3 1741.4,751.3 1743.8,755.2 1746.7,733.9 1754.6,698.0 1757.0,656.2 1759.5,622.3 1761.8,665.9 1764.7,712.1 1780.3,740.1 1782.8,682.4 1792.9,637.8 1795.8,618.4 1798.3,679.5 1800.6,702.8 1809.4,706.7 1811.3,720.7 1813.8,699.5 1819.1,711.0 1826.8,701.3 1829.4,680.5 1831.7,701.8 1834.6,711.0 1837.1,667.9 1845.3,671.8 1847.8,669.4 1850.1,658.2 1852.7,673.7 1855.6,659.7 1863.7,673.7 1866.1,639.1 1868.6,658.2 1871.1,684.4 1874.0,684.8 1881.2,708.2 1883.7,697.0 1886.4,709.6 1889.0,685.7 1891.9,682.8 1900.6,682.8 1903.1,681.1 1905.8,676.0 1918.1,658.6 1920.6,644.6 1923.3,662.0 1925.8,661.1 1928.2,703.4 1936.5,709.6 1938.8,680.9 1941.4,703.2 1943.9,702.8 1946.2,721.2 1955.0,736.8 1956.5,769.0 1959.4,780.7 1961.7,758.4 1964.8,771.4 1972.6,751.2 1974.5,726.3 1977.5,669.1 1980.2,655.9 1983.1,661.3 1990.9,666.6 1993.4,667.1 1995.9,674.9 1998.8,668.1 2001.1,666.6 2008.5,626.4 2011.4,627.7 2014.7,630.6 2019.2,629.3 2027.3,644.8 2029.7,617.6 2032.2,596.3 2035.1,608.9 2037.6,630.8 2045.4,614.3 2048.1,612.8 2050.1,587.6 2053.2,587.6 2055.9,635.1 2063.3,614.1 2066.2,667.1 2068.7,617.6 2071.4,597.8 2074.3,599.2 2081.7,574.5 2084.2,588.9 2086.5,678.8 2089.5,693.0 2099.5,644.4 2102.1,592.4 2104.6,566.2 2107.5,573.0 2110.2,556.1 2112.7,578.8 2120.5,649.1 2123.4,645.8 2125.8,623.9 2128.3,603.1 2136.6,618.2 2138.6,661.3 2141.5,656.8 2143.8,637.0 2146.7,640.0 2154.5,671.4 2156.8,612.8 2159.7,617.1 2162.2,632.8 2191.0,638.0 2196.2,623.9 2198.7,654.5 2201.5,636.1 2209.2,644.8 2211.7,604.4 2214.1,611.8 2216.6,591.4 2219.5,590.9 2227.3,549.3 2229.6,560.4 2232.1,615.7 2234.6,614.7 2238.9,610.3 2245.7,604.4 2248.2,608.9 2250.6,605.0 2253.5,607.0 2256.0,575.5 2266.1,644.8 2268.6,611.4 2271.3,618.6 2273.9,575.5 2282.2,611.4 2284.1,636.1 2287.0,643.5 2289.4,643.5 2292.3,633.6 2300.4,639.4 2303.0,606.0 2305.3,578.8 2307.8,567.6 2310.3,615.7 2318.1,590.9 2320.8,596.3 2323.3,586.6 2326.3,603.1 2328.2,575.5 2336.0,553.6 2338.5,558.4 2341.4,549.7 2344.3,552.2 2346.6,530.3 2354.9,533.2 2357.3,519.2 2360.2,529.3 2363.1,540.9 2365.0,576.8 2372.8,627.3 2375.3,615.7 2378.2,621.5 2381.1,600.1 2383.1,552.2 2391.2,519.2 2393.8,531.2 2396.3,540.0 2399.2,541.3 2401.5,582.7 2411.8,667.1 2414.5,651.6 2416.7,606.9 2427.7,567.1 2430.1,553.5 2433.2,572.6 2435.5,610.8 2438.0,642.3 2446.2,629.8 2448.5,606.5 2453.0,535.1 2455.9,464.3 2460.7,430.6 2463.5,413.5 2466.3,410.5 2469.1,363.2 2471.6,393.4 2474.2,436.8 2481.2,440.9 2484.6,446.8 2487.2,430.6 2489.6,384.1 2492.4,372.9 2499.9,290.9 2502.7,286.2 2505.5,250.8 2507.9,319.8 2537.1,383.1 2539.0,440.0 2541.9,469.1 2544.8,483.7 2546.7,531.6 2555.2,551.0 2557.4,577.4 2559.7,505.6 2562.6,496.9 2565.5,516.1 2572.9,544.8 2575.6,509.5 2578.5,507.9 2581.1,523.9 2584.0,761.0 2590.8,560.3 2593.7,570.4 2596.2,564.2 2598.9,570.0 2601.4,572.0 2609.8,583.6 2615.0,576.8 2617.6,578.8 2619.9,536.7 2630.2,494.3 2632.5,520.0 2635.4,527.3 2637.7,568.5 2646.1,579.8 2648.4,610.8 2651.3,582.7 2664.5,544.8 2666.9,513.8 2669.4,512.8 2674.2,459.0 2682.0,449.3 2684.9,396.7 2688.1,432.5 2690.5,455.8 2692.3,471.4 2700.8,467.2 2703.3,496.3 2708.2,552.6 2710.5,564.6 2718.9,577.4 2721.4,594.3 2736.7,576.8 2739.3,590.4 2742.2,593.9 2744.7,563.3 2747.4,577.4 2757.3,520.6 2760.6,560.3 2762.9,577.8 2765.5,614.7 2773.2,631.2 2776.1,614.7 2779.0,593.3 2783.5,521.9 2791.7,518.0 2794.6,522.5 2799.4,542.9 2801.4,555.5 2803.3,575.9" fill="none" stroke="#2ca02c" stroke-width="3.75" stroke-linejoin="round" stroke-linecap="square" />
<polyline points="518.8,1323.3 521.4,1349.5 524.3,1348.5 528.1,1332.0 534.0,1313.5 536.9,1312.6 539.8,1300.0 543.7,1300.9 551.4,1306.8 555.3,1316.5 558.2,1333.9 561.1,1339.8 566.0,1339.8 575.7,1349.5 577.6,1355.3 606.8,1363.0 613.5,1353.3 616.5,1355.3 624.2,1353.3 629.1,1343.6 633.0,1349.5 635.9,1353.3 643.6,1359.2 646.5,1360.1 650.4,1341.7 655.3,1339.8 662.1,1342.7 668.9,1345.6 674.7,1339.8 682.5,1329.1 687.3,1339.8 705.7,1361.1 708.7,1355.3 711.6,1358.2 719.3,1362.1 722.2,1339.8 726.1,1333.9 731.9,1335.9 739.7,1347.5 747.5,1353.3 761.1,1362.1 764.0,1357.2 769.8,1359.2 773.7,1356.2 775.6,1359.2 780.5,1353.3 789.2,1344.6 792.1,1349.5 795.0,1365.0 799.9,1365.0 810.6,1374.7 815.4,1376.6 817.4,1373.7 833.9,1376.6 844.5,1366.9 847.4,1366.0 850.3,1355.3 853.3,1363.0 862.0,1365.0 865.9,1351.4 868.8,1347.5 875.6,1353.3 888.2,1370.8 897.9,1359.2 902.8,1349.5 906.6,1349.5 916.3,1359.2 927.0,1359.2 929.7,1357.0 934.6,1355.5 937.5,1352.2 940.0,1357.6 942.7,1356.1 945.2,1344.8 954.0,1350.6 958.8,1343.5 960.8,1344.8 970.9,1335.3 974.0,1344.8 977.3,1340.6 982.1,1342.5 989.9,1339.0 994.7,1345.4 997.6,1339.6 1008.3,1342.5 1013.2,1342.5 1015.5,1331.8 1018.4,1329.3 1031.0,1350.6 1034.5,1342.5 1047.1,1344.4 1049.7,1353.8 1052.6,1349.3 1054.9,1349.7 1063.2,1342.5 1065.6,1327.9 1067.9,1337.6 1072.8,1364.8 1081.1,1341.1 1083.6,1328.3 1086.0,1324.1 1090.4,1333.4 1098.6,1337.6 1101.9,1342.5 1104.4,1340.6 1106.9,1335.3 1119.9,1327.4 1122.4,1337.3 1127.3,1352.6 1138.4,1344.8 1140.3,1337.6 1143.2,1339.6 1153.5,1332.8 1155.8,1321.1 1161.3,1316.3 1164.0,1329.3 1174.3,1327.0 1177.2,1330.5 1182.0,1350.3 1189.8,1350.3 1192.7,1355.1 1195.2,1345.0 1197.6,1347.3 1200.1,1339.2 1208.2,1353.2 1210.6,1350.3 1213.1,1360.9 1219.9,1366.2 1244.1,1361.3 1247.1,1352.2 1250.0,1356.5 1252.3,1351.6 1262.6,1348.7 1265.1,1357.0 1268.0,1355.1 1270.3,1366.2 1273.3,1360.0 1280.1,1360.9 1286.5,1367.3 1290.7,1367.3 1302.0,1356.1 1304.3,1346.4 1307.2,1350.6 1309.6,1348.3 1316.9,1355.1 1320.2,1360.9 1324.7,1350.6 1336.3,1350.6 1341.2,1330.3 1343.1,1336.3 1345.7,1331.4 1354.8,1336.7 1357.7,1342.5 1359.6,1350.3 1361.6,1360.5 1364.5,1356.1 1375.2,1352.2 1377.7,1356.1 1380.0,1348.3 1382.9,1346.0 1390.7,1344.4 1393.0,1350.3 1395.5,1345.4 1400.4,1352.2 1408.2,1346.4 1411.1,1346.0 1414.6,1342.5 1418.4,1334.1 1426.2,1332.8 1429.1,1335.7 1431.6,1336.1 1434.0,1345.4 1436.5,1349.3 1444.6,1350.3 1447.2,1342.9 1449.5,1346.4 1452.4,1354.5 1455.3,1356.1 1466.0,1356.1 1470.8,1358.6 1473.4,1346.4 1480.6,1345.0 1486.4,1334.7 1489.3,1340.6 1492.2,1340.2 1500.0,1334.7 1504.8,1332.8 1509.7,1336.7 1535.9,1327.4 1540.7,1324.4 1545.6,1332.8 1556.2,1344.8 1559.2,1344.8 1564.0,1331.8 1571.8,1340.6 1577.0,1351.6 1581.9,1340.0 1589.2,1340.6 1593.1,1339.6 1595.1,1340.6 1600.9,1335.7 1608.7,1336.7 1610.6,1335.3 1613.5,1334.7 1616.0,1330.3 1629.0,1345.4 1631.9,1346.0 1634.5,1348.9 1636.8,1338.6 1644.6,1335.7 1647.5,1339.0 1652.3,1343.9 1655.2,1341.9 1663.0,1333.8 1665.5,1322.1 1667.9,1320.6 1673.7,1318.6 1681.4,1321.7 1685.3,1321.1 1688.8,1318.6 1698.9,1327.0 1701.8,1325.4 1706.7,1327.9 1709.6,1317.8 1719.9,1325.4 1722.6,1320.6 1728.0,1317.3 1735.8,1320.2 1738.7,1319.6 1741.2,1315.3 1745.5,1323.1 1749.4,1325.0 1756.8,1327.4 1759.1,1330.8 1763.5,1319.8 1780.4,1330.8 1782.4,1339.2 1790.1,1339.2 1793.1,1338.2 1795.4,1341.9 1797.9,1337.1 1808.6,1330.3 1811.1,1329.9 1816.3,1338.2 1827.0,1330.5 1829.5,1324.1 1831.9,1325.0 1837.7,1332.2 1846.4,1335.7 1850.3,1340.0 1852.8,1338.6 1855.6,1347.3 1863.9,1340.0 1865.8,1344.8 1868.8,1338.6 1873.6,1333.4 1881.4,1329.9 1884.3,1331.2 1886.2,1329.5 1891.7,1338.0 1899.4,1334.4 1901.9,1339.3 1904.8,1349.6 1917.8,1352.3 1920.4,1349.6 1923.1,1353.5 1925.6,1353.5 1928.5,1346.1 1936.3,1340.8 1938.8,1343.8 1941.7,1338.3 1944.1,1337.3 1953.4,1336.0 1956.3,1331.1 1959.6,1331.1 1964.4,1336.4 1972.8,1332.5 1974.7,1342.2 1977.6,1340.8 1980.0,1346.1 1982.9,1349.0 1990.6,1351.9 1993.2,1348.0 1995.9,1350.0 1998.8,1350.9 2001.3,1349.4 2009.1,1351.9 2011.4,1350.9 2016.8,1356.2 2019.2,1352.3 2026.9,1348.0 2029.5,1351.9 2032.4,1353.5 2034.7,1353.5 2037.6,1350.5 2045.0,1351.9 2047.9,1360.1 2050.8,1352.9 2052.7,1356.8 2055.7,1349.0 2063.4,1346.5 2068.3,1346.5 2071.2,1361.6 2073.5,1365.1 2081.9,1368.8 2086.7,1370.3 2091.6,1363.0 2099.3,1364.1 2102.6,1367.4 2105.2,1360.6 2110.4,1351.9 2120.7,1348.6 2123.0,1345.1 2125.9,1343.8 2128.1,1356.2 2136.2,1356.2 2138.7,1352.9 2141.5,1353.5 2144.0,1350.5 2154.7,1350.5 2157.2,1356.8 2159.5,1365.9 2162.4,1362.6 2190.6,1370.0 2193.1,1368.4 2196.0,1364.5 2198.3,1359.3 2209.0,1357.7 2211.3,1359.1 2213.9,1357.3 2216.4,1357.3 2219.3,1361.6 2229.4,1367.0 2232.3,1370.3 2234.6,1370.3 2237.5,1367.0 2245.3,1363.0 2251.7,1368.4 2255.6,1368.4 2263.3,1363.2 2266.3,1362.6 2268.8,1364.5 2271.1,1363.2 2273.6,1367.4 2281.8,1370.3 2284.3,1363.2 2287.0,1355.2 2289.5,1356.4 2300.2,1356.4 2302.7,1360.6 2305.5,1360.2 2308.0,1357.3 2310.9,1357.7 2318.3,1364.5 2320.6,1359.3 2323.1,1364.1 2325.8,1364.1 2328.4,1361.6 2336.1,1365.9 2339.0,1370.0 2341.6,1366.5 2346.8,1361.6 2354.6,1358.7 2357.1,1365.9 2360.0,1371.9 2362.3,1374.2 2364.7,1367.0 2373.0,1368.0 2375.7,1368.6 2383.1,1372.8 2390.8,1370.0 2393.5,1365.4 2396.1,1366.9 2398.8,1366.9 2401.3,1372.6 2409.3,1373.6 2412.4,1374.7 2417.0,1377.0 2419.7,1369.6 2427.1,1369.6 2430.2,1368.4 2432.7,1368.4 2438.0,1371.1 2445.5,1366.9 2448.5,1371.1 2451.2,1369.6 2453.7,1369.6 2456.0,1373.2 2463.8,1377.8 2466.5,1380.5 2469.0,1380.5 2471.7,1385.1 2474.9,1385.1 2481.6,1383.7 2484.7,1380.5 2487.5,1380.5 2490.0,1383.7 2492.5,1382.2 2500.5,1383.7 2503.2,1385.1 2547.0,1385.1 2555.0,1380.9 2557.5,1380.9 2562.7,1383.7 2572.8,1385.1 2575.5,1384.1 2578.7,1383.7 2583.3,1379.5 2591.2,1378.0 2596.5,1373.8 2599.0,1375.3 2601.7,1373.8 2609.5,1366.9 2612.2,1366.9 2614.7,1364.2 2617.4,1366.9 2620.0,1372.6 2627.9,1372.6 2630.4,1371.1 2633.0,1372.6 2635.7,1371.1 2638.2,1375.3 2646.2,1371.1 2648.7,1372.6 2664.0,1372.6 2666.7,1371.1 2669.2,1372.1 2671.9,1373.8 2674.5,1378.0 2682.4,1375.3 2684.9,1380.5 2687.7,1382.6 2690.2,1383.7 2693.3,1383.7 2700.7,1382.2 2703.2,1380.9 2705.9,1380.5 2708.0,1379.5 2710.7,1379.5 2718.5,1376.8 2721.0,1379.5 2736.7,1376.8 2742.2,1373.8 2744.7,1374.9 2747.4,1374.9 2755.2,1376.3 2757.7,1375.3 2760.4,1376.8 2763.1,1372.6 2765.7,1369.6 2773.6,1369.6 2776.1,1366.9 2781.0,1366.9 2783.5,1371.1 2791.4,1372.6 2794.0,1373.8 2796.7,1367.9 2799.2,1366.9 2802.8,1365.2" fill="none" stroke="#d62728" stroke-width="3.75" stroke-linejoin="round" stroke-linecap="square" />
</g>
<rect x="405.0" y="194.0" width="2511.0" height="1248.0" fill="none" stroke="#000" stroke-width="2"/>
<line x1="511.00" y1="1442.0" x2="511.00" y2="1451.0" stroke="#000" stroke-width="2"/>
<text transform="translate(473.90,1476.40) scale(0.84,1)" text-anchor="middle" font-size="24.62" fill="#000" stroke="#000" stroke-width="0.20" >2</text>
<text transform="translate(486.40,1476.40) scale(0.84,1)" text-anchor="middle" font-size="24.62" fill="#000" stroke="#000" stroke-width="0.20" >0</text>
<text transform="translate(498.90,1476.40) scale(0.84,1)" text-anchor="middle" font-size="24.62" fill="#000" stroke="#000" stroke-width="0.20" >2</text>
<text transform="translate(511.40,1476.40) scale(0.84,1)" text-anchor="middle" font-size="24.62" fill="#000" stroke="#000" stroke-width="0.20" >2</text>
<rect x="517.96" y="1466.78" width="11.88" height="1.80" fill="#000"/>
<text transform="translate(536.40,1476.40) scale(0.84,1)" text-anchor="middle" font-size="24.62" fill="#000" stroke="#000" stroke-width="0.20" >0</text>
<text transform="translate(548.90,1476.40) scale(0.84,1)" text-anchor="middle" font-size="24.62" fill="#000" stroke="#000" stroke-width="0.20" >1</text>
<line x1="745.00" y1="1442.0" x2="745.00" y2="1451.0" stroke="#000" stroke-width="2"/>
<text transform="translate(707.90,1476.40) scale(0.84,1)" text-anchor="middle" font-size="24.62" fill="#000" stroke="#000" stroke-width="0.20" >2</text>
<text transform="translate(720.40,1476.40) scale(0.84,1)" text-anchor="middle" font-size="24.62" fill="#000" stroke="#000" stroke-width="0.20" >0</text>
<text transform="translate(732.90,1476.40) scale(0.84,1)" text-anchor="middle" font-size="24.62" fill="#000" stroke="#000" stroke-width="0.20" >2</text>
<text transform="translate(745.40,1476.40) scale(0.84,1)" text-anchor="middle" font-size="24.62" fill="#000" stroke="#000" stroke-width="0.20" >2</text>
<rect x="751.96" y="1466.78" width="11.88" height="1.80" fill="#000"/>
<text transform="translate(770.40,1476.40) scale(0.84,1)" text-anchor="middle" font-size="24.62" fill="#000" stroke="#000" stroke-width="0.20" >0</text>
<text transform="translate(782.90,1476.40) scale(0.84,1)" text-anchor="middle" font-size="24.62" fill="#000" stroke="#000" stroke-width="0.20" >4</text>
<line x1="982.00" y1="1442.0" x2="982.00" y2="1451.0" stroke="#000" stroke-width="2"/>
<text transform="translate(944.90,1476.40) scale(0.84,1)" text-anchor="middle" font-size="24.62" fill="#000" stroke="#000" stroke-width="0.20" >2</text>
<text transform="translate(957.40,1476.40) scale(0.84,1)" text-anchor="middle" font-size="24.62" fill="#000" stroke="#000" stroke-width="0.20" >0</text>
<text transform="translate(969.90,1476.40) scale(0.84,1)" text-anchor="middle" font-size="24.62" fill="#000" stroke="#000" stroke-width="0.20" >2</text>
<text transform="translate(982.40,1476.40) scale(0.84,1)" text-anchor="middle" font-size="24.62" fill="#000" stroke="#000" stroke-width="0.20" >2</text>
<rect x="988.96" y="1466.78" width="11.88" height="1.80" fill="#000"/>
<text transform="translate(1007.40,1476.40) scale(0.84,1)" text-anchor="middle" font-size="24.62" fill="#000" stroke="#000" stroke-width="0.20" >0</text>
<text transform="translate(1019.90,1476.40) scale(0.84,1)" text-anchor="middle" font-size="24.62" fill="#000" stroke="#000" stroke-width="0.20" >7</text>
<line x1="1221.00" y1="1442.0" x2="1221.00" y2="1451.0" stroke="#000" stroke-width="2"/>
<text transform="translate(1183.90,1476.40) scale(0.84,1)" text-anchor="middle" font-size="24.62" fill="#000" stroke="#000" stroke-width="0.20" >2</text>
<text transform="translate(1196.40,1476.40) scale(0.84,1)" text-anchor="middle" font-size="24.62" fill="#000" stroke="#000" stroke-width="0.20" >0</text>
<text transform="translate(1208.90,1476.40) scale(0.84,1)" text-anchor="middle" font-size="24.62" fill="#000" stroke="#000" stroke-width="0.20" >2</text>
<text transform="translate(1221.40,1476.40) scale(0.84,1)" text-anchor="middle" font-size="24.62" fill="#000" stroke="#000" stroke-width="0.20" >2</text>
<rect x="1227.96" y="1466.78" width="11.88" height="1.80" fill="#000"/>
<text transform="translate(1246.40,1476.40) scale(0.84,1)" text-anchor="middle" font-size="24.62" fill="#000" stroke="#000" stroke-width="0.20" >1</text>
<text transform="translate(1258.90,1476.40) scale(0.84,1)" text-anchor="middle" font-size="24.62" fill="#000" stroke="#000" stroke-width="0.20" >0</text>
<line x1="1460.00" y1="1442.0" x2="1460.00" y2="1451.0" stroke="#000" stroke-width="2"/>
<text transform="translate(1422.90,1476.40) scale(0.84,1)" text-anchor="middle" font-size="24.62" fill="#000" stroke="#000" stroke-width="0.20" >2</text>
<text transform="translate(1435.40,1476.40) scale(0.84,1)" text-anchor="middle" font-size="24.62" fill="#000" stroke="#000" stroke-width="0.20" >0</text>
<text transform="translate(1447.90,1476.40) scale(0.84,1)" text-anchor="middle" font-size="24.62" fill="#000" stroke="#000" stroke-width="0.20" >2</text>
<text transform="translate(1460.40,1476.40) scale(0.84,1)" text-anchor="middle" font-size="24.62" fill="#000" stroke="#000" stroke-width="0.20" >3</text>
<rect x="1466.96" y="1466.78" width="11.88" height="1.80" fill="#000"/>
<text transform="translate(1485.40,1476.40) scale(0.84,1)" text-anchor="middle" font-size="24.62" fill="#000" stroke="#000" stroke-width="0.20" >0</text>
<text transform="translate(1497.90,1476.40) scale(0.84,1)" text-anchor="middle" font-size="24.62" fill="#000" stroke="#000" stroke-width="0.20" >1</text>
<line x1="1694.00" y1="1442.0" x2="1694.00" y2="1451.0" stroke="#000" stroke-width="2"/>
<text transform="translate(1656.90,1476.40) scale(0.84,1)" text-anchor="middle" font-size="24.62" fill="#000" stroke="#000" stroke-width="0.20" >2</text>
<text transform="translate(1669.40,1476.40) scale(0.84,1)" text-anchor="middle" font-size="24.62" fill="#000" stroke="#000" stroke-width="0.20" >0</text>
<text transform="translate(1681.90,1476.40) scale(0.84,1)" text-anchor="middle" font-size="24.62" fill="#000" stroke="#000" stroke-width="0.20" >2</text>
<text transform="translate(1694.40,1476.40) scale(0.84,1)" text-anchor="middle" font-size="24.62" fill="#000" stroke="#000" stroke-width="0.20" >3</text>
<rect x="1700.96" y="1466.78" width="11.88" height="1.80" fill="#000"/>
<text transform="translate(1719.40,1476.40) scale(0.84,1)" text-anchor="middle" font-size="24.62" fill="#000" stroke="#000" stroke-width="0.20" >0</text>
<text transform="translate(1731.90,1476.40) scale(0.84,1)" text-anchor="middle" font-size="24.62" fill="#000" stroke="#000" stroke-width="0.20" >4</text>
<line x1="1931.00" y1="1442.0" x2="1931.00" y2="1451.0" stroke="#000" stroke-width="2"/>
<text transform="translate(1893.90,1476.40) scale(0.84,1)" text-anchor="middle" font-size="24.62" fill="#000" stroke="#000" stroke-width="0.20" >2</text>
<text transform="translate(1906.40,1476.40) scale(0.84,1)" text-anchor="middle" font-size="24.62" fill="#000" stroke="#000" stroke-width="0.20" >0</text>
<text transform="translate(1918.90,1476.40) scale(0.84,1)" text-anchor="middle" font-size="24.62" fill="#000" stroke="#000" stroke-width="0.20" >2</text>
<text transform="translate(1931.40,1476.40) scale(0.84,1)" text-anchor="middle" font-size="24.62" fill="#000" stroke="#000" stroke-width="0.20" >3</text>
<rect x="1937.96" y="1466.78" width="11.88" height="1.80" fill="#000"/>
<text transform="translate(1956.40,1476.40) scale(0.84,1)" text-anchor="middle" font-size="24.62" fill="#000" stroke="#000" stroke-width="0.20" >0</text>
<text transform="translate(1968.90,1476.40) scale(0.84,1)" text-anchor="middle" font-size="24.62" fill="#000" stroke="#000" stroke-width="0.20" >7</text>
<line x1="2170.00" y1="1442.0" x2="2170.00" y2="1451.0" stroke="#000" stroke-width="2"/>
<text transform="translate(2132.90,1476.40) scale(0.84,1)" text-anchor="middle" font-size="24.62" fill="#000" stroke="#000" stroke-width="0.20" >2</text>
<text transform="translate(2145.40,1476.40) scale(0.84,1)" text-anchor="middle" font-size="24.62" fill="#000" stroke="#000" stroke-width="0.20" >0</text>
<text transform="translate(2157.90,1476.40) scale(0.84,1)" text-anchor="middle" font-size="24.62" fill="#000" stroke="#000" stroke-width="0.20" >2</text>
<text transform="translate(2170.40,1476.40) scale(0.84,1)" text-anchor="middle" font-size="24.62" fill="#000" stroke="#000" stroke-width="0.20" >3</text>
<rect x="2176.96" y="1466.78" width="11.88" height="1.80" fill="#000"/>
<text transform="translate(2195.40,1476.40) scale(0.84,1)" text-anchor="middle" font-size="24.62" fill="#000" stroke="#000" stroke-width="0.20" >1</text>
<text transform="translate(2207.90,1476.40) scale(0.84,1)" text-anchor="middle" font-size="24.62" fill="#000" stroke="#000" stroke-width="0.20" >0</text>
<line x1="2409.00" y1="1442.0" x2="2409.00" y2="1451.0" stroke="#000" stroke-width="2"/>
<text transform="translate(2371.90,1476.40) scale(0.84,1)" text-anchor="middle" font-size="24.62" fill="#000" stroke="#000" stroke-width="0.20" >2</text>
<text transform="translate(2384.40,1476.40) scale(0.84,1)" text-anchor="middle" font-size="24.62" fill="#000" stroke="#000" stroke-width="0.20" >0</text>
<text transform="translate(2396.90,1476.40) scale(0.84,1)" text-anchor="middle" font-size="24.62" fill="#000" stroke="#000" stroke-width="0.20" >2</text>
<text transform="translate(2409.40,1476.40) scale(0.84,1)" text-anchor="middle" font-size="24.62" fill="#000" stroke="#000" stroke-width="0.20" >4</text>
<rect x="2415.96" y="1466.78" width="11.88" height="1.80" fill="#000"/>
<text transform="translate(2434.40,1476.40) scale(0.84,1)" text-anchor="middle" font-size="24.62" fill="#000" stroke="#000" stroke-width="0.20" >0</text>
<text transform="translate(2446.90,1476.40) scale(0.84,1)" text-anchor="middle" font-size="24.62" fill="#000" stroke="#000" stroke-width="0.20" >1</text>
<line x1="2646.00" y1="1442.0" x2="2646.00" y2="1451.0" stroke="#000" stroke-width="2"/>
<text transform="translate(2608.90,1476.40) scale(0.84,1)" text-anchor="middle" font-size="24.62" fill="#000" stroke="#000" stroke-width="0.20" >2</text>
<text transform="translate(2621.40,1476.40) scale(0.84,1)" text-anchor="middle" font-size="24.62" fill="#000" stroke="#000" stroke-width="0.20" >0</text>
<text transform="translate(2633.90,1476.40) scale(0.84,1)" text-anchor="middle" font-size="24.62" fill="#000" stroke="#000" stroke-width="0.20" >2</text>
<text transform="translate(2646.40,1476.40) scale(0.84,1)" text-anchor="middle" font-size="24.62" fill="#000" stroke="#000" stroke-width="0.20" >4</text>
<rect x="2652.96" y="1466.78" width="11.88" height="1.80" fill="#000"/>
<text transform="translate(2671.40,1476.40) scale(0.84,1)" text-anchor="middle" font-size="24.62" fill="#000" stroke="#000" stroke-width="0.20" >0</text>
<text transform="translate(2683.90,1476.40) scale(0.84,1)" text-anchor="middle" font-size="24.62" fill="#000" stroke="#000" stroke-width="0.20" >4</text>
<line x1="2882.00" y1="1442.0" x2="2882.00" y2="1451.0" stroke="#000" stroke-width="2"/>
<text transform="translate(2844.90,1476.40) scale(0.84,1)" text-anchor="middle" font-size="24.62" fill="#000" stroke="#000" stroke-width="0.20" >2</text>
<text transform="translate(2857.40,1476.40) scale(0.84,1)" text-anchor="middle" font-size="24.62" fill="#000" stroke="#000" stroke-width="0.20" >0</text>
<text transform="translate(2869.90,1476.40) scale(0.84,1)" text-anchor="middle" font-size="24.62" fill="#000" stroke="#000" stroke-width="0.20" >2</text>
<text transform="translate(2882.40,1476.40) scale(0.84,1)" text-anchor="middle" font-size="24.62" fill="#000" stroke="#000" stroke-width="0.20" >4</text>
<rect x="2888.96" y="1466.78" width="11.88" height="1.80" fill="#000"/>
<text transform="translate(2907.40,1476.40) scale(0.84,1)" text-anchor="middle" font-size="24.62" fill="#000" stroke="#000" stroke-width="0.20" >0</text>
<text transform="translate(2919.90,1476.40) scale(0.84,1)" text-anchor="middle" font-size="24.62" fill="#000" stroke="#000" stroke-width="0.20" >7</text>
<line x1="396.0" y1="1385.00" x2="405.0" y2="1385.00" stroke="#000" stroke-width="2"/>
<text transform="translate(356.25,1392.90) scale(0.84,1)" text-anchor="middle" font-size="24.62" fill="#000" stroke="#000" stroke-width="0.20" >0</text>
<text transform="translate(366.25,1392.90) scale(1.0,1)" text-anchor="middle" font-size="22.00" fill="#000" stroke="#000" stroke-width="0.00" >.</text>
<text transform="translate(381.25,1392.90) scale(0.84,1)" text-anchor="middle" font-size="24.62" fill="#000" stroke="#000" stroke-width="0.20" >0</text>
<line x1="396.0" y1="1110.00" x2="405.0" y2="1110.00" stroke="#000" stroke-width="2"/>
<text transform="translate(356.25,1117.90) scale(0.84,1)" text-anchor="middle" font-size="24.62" fill="#000" stroke="#000" stroke-width="0.20" >0</text>
<text transform="translate(366.25,1117.90) scale(1.0,1)" text-anchor="middle" font-size="22.00" fill="#000" stroke="#000" stroke-width="0.00" >.</text>
<text transform="translate(381.25,1117.90) scale(0.84,1)" text-anchor="middle" font-size="24.62" fill="#000" stroke="#000" stroke-width="0.20" >2</text>
<line x1="396.0" y1="835.00" x2="405.0" y2="835.00" stroke="#000" stroke-width="2"/>
<text transform="translate(356.25,842.90) scale(0.84,1)" text-anchor="middle" font-size="24.62" fill="#000" stroke="#000" stroke-width="0.20" >0</text>
<text transform="translate(366.25,842.90) scale(1.0,1)" text-anchor="middle" font-size="22.00" fill="#000" stroke="#000" stroke-width="0.00" >.</text>
<text transform="translate(381.25,842.90) scale(0.84,1)" text-anchor="middle" font-size="24.62" fill="#000" stroke="#000" stroke-width="0.20" >4</text>
<line x1="396.0" y1="559.00" x2="405.0" y2="559.00" stroke="#000" stroke-width="2"/>
<text transform="translate(356.25,566.90) scale(0.84,1)" text-anchor="middle" font-size="24.62" fill="#000" stroke="#000" stroke-width="0.20" >0</text>
<text transform="translate(366.25,566.90) scale(1.0,1)" text-anchor="middle" font-size="22.00" fill="#000" stroke="#000" stroke-width="0.00" >.</text>
<text transform="translate(381.25,566.90) scale(0.84,1)" text-anchor="middle" font-size="24.62" fill="#000" stroke="#000" stroke-width="0.20" >6</text>
<line x1="396.0" y1="284.00" x2="405.0" y2="284.00" stroke="#000" stroke-width="2"/>
<text transform="translate(356.25,291.90) scale(0.84,1)" text-anchor="middle" font-size="24.62" fill="#000" stroke="#000" stroke-width="0.20" >0</text>
<text transform="translate(366.25,291.90) scale(1.0,1)" text-anchor="middle" font-size="22.00" fill="#000" stroke="#000" stroke-width="0.00" >.</text>
<text transform="translate(381.25,291.90) scale(0.84,1)" text-anchor="middle" font-size="24.62" fill="#000" stroke="#000" stroke-width="0.20" >8</text>
<g transform="translate(1088.62,177.80) scale(1.0000)" fill="none" stroke="#000" stroke-width="3.1"><path d="M5.4,0 L5.4,-16.9"/><path d="M5.6,-8.5 C6.6,-13.2 10,-15.7 15.0,-15.4" stroke-width="3.0"/></g>
<text transform="translate(1116.75,177.80) scale(1.0,1)" text-anchor="middle" font-size="34.88" fill="#000" stroke="#000" stroke-width="0.00" >i</text>
<text transform="translate(1135.50,177.80) scale(1.02,1)" text-anchor="middle" font-size="31.88" fill="#000" stroke="#000" stroke-width="0.30" >s</text>
<text transform="translate(1154.25,177.80) scale(1.0,1)" text-anchor="middle" font-size="34.88" fill="#000" stroke="#000" stroke-width="0.00" >k</text>
<text transform="translate(1173.00,177.80) scale(1.02,1)" text-anchor="middle" font-size="31.88" fill="#000" stroke="#000" stroke-width="0.30" >y</text>
<text transform="translate(1210.50,177.80) scale(1.0,1)" text-anchor="middle" font-size="31.88" fill="#000" stroke="#000" stroke-width="0.30" >p</text>
<g transform="translate(1219.88,177.80) scale(1.0000)" fill="none" stroke="#000" stroke-width="3.1"><path d="M5.4,0 L5.4,-16.9"/><path d="M5.6,-8.5 C6.6,-13.2 10,-15.7 15.0,-15.4" stroke-width="3.0"/></g>
<text transform="translate(1248.00,177.80) scale(1.0,1)" text-anchor="middle" font-size="34.88" fill="#000" stroke="#000" stroke-width="0.00" >i</text>
<text transform="translate(1266.75,177.80) scale(1.02,1)" text-anchor="middle" font-size="31.88" fill="#000" stroke="#000" stroke-width="0.30" >c</text>
<text transform="translate(1285.50,177.80) scale(1.0,1)" text-anchor="middle" font-size="31.88" fill="#000" stroke="#000" stroke-width="0.30" >e</text>
<g transform="translate(1313.62,177.80) scale(1.0000)" fill="none" stroke="#000" stroke-width="3.1"><path d="M5.4,0 L5.4,-16.9"/><path d="M5.6,-8.5 C6.6,-13.2 10,-15.7 15.0,-15.4" stroke-width="3.0"/></g>
<text transform="translate(1341.75,177.80) scale(1.0,1)" text-anchor="middle" font-size="31.88" fill="#000" stroke="#000" stroke-width="0.30" >a</text>
<g transform="translate(1351.12,177.80) scale(1.0000)" fill="none" stroke="#000" stroke-width="3.0"><path d="M7.35,-22.9 L7.35,-6.2 C7.35,-2.6 9.3,-1.5 12,-1.5 C13.8,-1.5 15.2,-1.9 16.3,-2.6"/><path d="M0.9,-15.5 L15,-15.5" stroke-width="2.8"/></g>
<text transform="translate(1379.25,177.80) scale(1.0,1)" text-anchor="middle" font-size="34.88" fill="#000" stroke="#000" stroke-width="0.00" >i</text>
<text transform="translate(1398.00,177.80) scale(1.02,1)" text-anchor="middle" font-size="31.88" fill="#000" stroke="#000" stroke-width="0.30" >o</text>
<text transform="translate(1413.00,177.80) scale(1.0,1)" text-anchor="middle" font-size="33.00" fill="#000" stroke="#000" stroke-width="0.00" >,</text>
<text transform="translate(1454.25,177.80) scale(1.0,1)" text-anchor="middle" font-size="31.88" fill="#000" stroke="#000" stroke-width="0.30" >p</text>
<text transform="translate(1473.00,177.80) scale(1.02,1)" text-anchor="middle" font-size="31.88" fill="#000" stroke="#000" stroke-width="0.30" >c</text>
<g transform="translate(1482.38,177.80) scale(1.0000)" fill="none" stroke="#000" stroke-width="3.0"><path d="M7.35,-22.9 L7.35,-6.2 C7.35,-2.6 9.3,-1.5 12,-1.5 C13.8,-1.5 15.2,-1.9 16.3,-2.6"/><path d="M0.9,-15.5 L15,-15.5" stroke-width="2.8"/></g>
<g transform="translate(1519.88,177.80) scale(1.0000)" fill="none" stroke="#000" stroke-width="3.1"><path d="M5.4,0 L5.4,-16.9"/><path d="M5.6,-8.5 C6.6,-13.2 10,-15.7 15.0,-15.4" stroke-width="3.0"/></g>
<text transform="translate(1548.00,177.80) scale(1.0,1)" text-anchor="middle" font-size="31.88" fill="#000" stroke="#000" stroke-width="0.30" >e</text>
<text transform="translate(1566.75,177.80) scale(1.0,1)" text-anchor="middle" font-size="34.88" fill="#000" stroke="#000" stroke-width="0.00" >l</text>
<text transform="translate(1585.50,177.80) scale(1.0,1)" text-anchor="middle" font-size="31.88" fill="#000" stroke="#000" stroke-width="0.30" >a</text>
<g transform="translate(1594.88,177.80) scale(1.0000)" fill="none" stroke="#000" stroke-width="3.0"><path d="M7.35,-22.9 L7.35,-6.2 C7.35,-2.6 9.3,-1.5 12,-1.5 C13.8,-1.5 15.2,-1.9 16.3,-2.6"/><path d="M0.9,-15.5 L15,-15.5" stroke-width="2.8"/></g>
<text transform="translate(1623.00,177.80) scale(1.0,1)" text-anchor="middle" font-size="31.88" fill="#000" stroke="#000" stroke-width="0.30" >e</text>
<text transform="translate(1641.75,177.80) scale(0.95,1)" text-anchor="middle" font-size="34.88" fill="#000" stroke="#000" stroke-width="0.00" >d</text>
<g transform="translate(1669.88,177.80) scale(1.0000)" fill="none" stroke="#000" stroke-width="3.0"><path d="M7.35,-22.9 L7.35,-6.2 C7.35,-2.6 9.3,-1.5 12,-1.5 C13.8,-1.5 15.2,-1.9 16.3,-2.6"/><path d="M0.9,-15.5 L15,-15.5" stroke-width="2.8"/></g>
<text transform="translate(1698.00,177.80) scale(1.02,1)" text-anchor="middle" font-size="31.88" fill="#000" stroke="#000" stroke-width="0.30" >o</text>
<text transform="translate(1735.50,177.80) scale(1.0,1)" text-anchor="middle" font-size="31.88" fill="#000" stroke="#000" stroke-width="0.30" >p</text>
<g transform="translate(1744.88,177.80) scale(1.0000)" fill="none" stroke="#000" stroke-width="3.1"><path d="M5.4,0 L5.4,-16.9"/><path d="M5.6,-8.5 C6.6,-13.2 10,-15.7 15.0,-15.4" stroke-width="3.0"/></g>
<text transform="translate(1773.00,177.80) scale(1.0,1)" text-anchor="middle" font-size="34.88" fill="#000" stroke="#000" stroke-width="0.00" >i</text>
<text transform="translate(1791.75,177.80) scale(1.02,1)" text-anchor="middle" font-size="31.88" fill="#000" stroke="#000" stroke-width="0.30" >c</text>
<text transform="translate(1810.50,177.80) scale(1.0,1)" text-anchor="middle" font-size="31.88" fill="#000" stroke="#000" stroke-width="0.30" >e</text>
<text transform="translate(1829.25,177.80) scale(1.0,1)" text-anchor="middle" font-size="33.00" fill="#000" stroke="#000" stroke-width="0.00" >:</text>
<text transform="translate(1868.62,177.80) scale(1.0,1)" text-anchor="middle" font-size="36.94" fill="#000" stroke="#000" stroke-width="0.00" >(</text>
<text transform="translate(1885.50,177.80) scale(0.84,1)" text-anchor="middle" font-size="36.94" fill="#000" stroke="#000" stroke-width="0.30" >2</text>
<text transform="translate(1904.25,177.80) scale(0.84,1)" text-anchor="middle" font-size="36.94" fill="#000" stroke="#000" stroke-width="0.30" >0</text>
<text transform="translate(1923.00,177.80) scale(0.84,1)" text-anchor="middle" font-size="36.94" fill="#000" stroke="#000" stroke-width="0.30" >2</text>
<text transform="translate(1941.75,177.80) scale(0.84,1)" text-anchor="middle" font-size="36.94" fill="#000" stroke="#000" stroke-width="0.30" >2</text>
<text transform="translate(1960.50,177.80) scale(0.84,1)" text-anchor="middle" font-size="36.94" fill="#000" stroke="#000" stroke-width="0.30" >0</text>
<text transform="translate(1979.25,177.80) scale(0.84,1)" text-anchor="middle" font-size="36.94" fill="#000" stroke="#000" stroke-width="0.30" >1</text>
<text transform="translate(1998.00,177.80) scale(0.84,1)" text-anchor="middle" font-size="36.94" fill="#000" stroke="#000" stroke-width="0.30" >0</text>
<text transform="translate(2016.75,177.80) scale(0.84,1)" text-anchor="middle" font-size="36.94" fill="#000" stroke="#000" stroke-width="0.30" >4</text>
<text transform="translate(2031.75,177.80) scale(1.0,1)" text-anchor="middle" font-size="33.00" fill="#000" stroke="#000" stroke-width="0.00" >,</text>
<text transform="translate(2073.00,177.80) scale(0.84,1)" text-anchor="middle" font-size="36.94" fill="#000" stroke="#000" stroke-width="0.30" >2</text>
<text transform="translate(2091.75,177.80) scale(0.84,1)" text-anchor="middle" font-size="36.94" fill="#000" stroke="#000" stroke-width="0.30" >0</text>
<text transform="translate(2110.50,177.80) scale(0.84,1)" text-anchor="middle" font-size="36.94" fill="#000" stroke="#000" stroke-width="0.30" >2</text>
<text transform="translate(2129.25,177.80) scale(0.84,1)" text-anchor="middle" font-size="36.94" fill="#000" stroke="#000" stroke-width="0.30" >4</text>
<text transform="translate(2148.00,177.80) scale(0.84,1)" text-anchor="middle" font-size="36.94" fill="#000" stroke="#000" stroke-width="0.30" >0</text>
<text transform="translate(2166.75,177.80) scale(0.84,1)" text-anchor="middle" font-size="36.94" fill="#000" stroke="#000" stroke-width="0.30" >5</text>
<text transform="translate(2185.50,177.80) scale(0.84,1)" text-anchor="middle" font-size="36.94" fill="#000" stroke="#000" stroke-width="0.30" >3</text>
<text transform="translate(2204.25,177.80) scale(0.84,1)" text-anchor="middle" font-size="36.94" fill="#000" stroke="#000" stroke-width="0.30" >1</text>
<text transform="translate(2220.75,177.80) scale(1.0,1)" text-anchor="middle" font-size="36.94" fill="#000" stroke="#000" stroke-width="0.00" >)</text>
<rect x="424.3" y="1207.5" width="510.0" height="215.7" rx="5.5" ry="5.5" fill="#ffffff" fill-opacity="0.8" stroke="#cccccc" stroke-opacity="0.8" stroke-width="2.5"/>
<line x1="438.75" y1="1236.9" x2="513.75" y2="1236.9" stroke="#1f77b4" stroke-width="3.75" stroke-linecap="square"/>
<g transform="translate(543.75,1249.00) scale(1.0000)" fill="none" stroke="#000" stroke-width="3.1"><path d="M5.4,0 L5.4,-16.9"/><path d="M5.6,-8.5 C6.6,-13.2 10,-15.7 15.0,-15.4" stroke-width="3.0"/></g>
<text transform="translate(571.88,1249.00) scale(1.0,1)" text-anchor="middle" font-size="31.88" fill="#000" stroke="#000" stroke-width="0.30" >a</text>
<g transform="translate(581.25,1249.00) scale(1.0000)" fill="none" stroke="#000" stroke-width="3.0"><path d="M7.35,-22.9 L7.35,-6.2 C7.35,-2.6 9.3,-1.5 12,-1.5 C13.8,-1.5 15.2,-1.9 16.3,-2.6"/><path d="M0.9,-15.5 L15,-15.5" stroke-width="2.8"/></g>
<text transform="translate(609.38,1249.00) scale(1.0,1)" text-anchor="middle" font-size="34.88" fill="#000" stroke="#000" stroke-width="0.00" >i</text>
<text transform="translate(628.12,1249.00) scale(1.02,1)" text-anchor="middle" font-size="31.88" fill="#000" stroke="#000" stroke-width="0.30" >o</text>
<rect x="637.97" y="1253.50" width="17.81" height="2.06" fill="#000"/>
<text transform="translate(665.62,1249.00) scale(0.95,1)" text-anchor="middle" font-size="34.88" fill="#000" stroke="#000" stroke-width="0.00" >b</text>
<text transform="translate(684.38,1249.00) scale(1.0,1)" text-anchor="middle" font-size="31.88" fill="#000" stroke="#000" stroke-width="0.30" >e</text>
<text transform="translate(703.12,1249.00) scale(1.0,1)" text-anchor="middle" font-size="34.88" fill="#000" stroke="#000" stroke-width="0.00" >l</text>
<text transform="translate(721.88,1249.00) scale(1.02,1)" text-anchor="middle" font-size="31.88" fill="#000" stroke="#000" stroke-width="0.30" >o</text>
<text transform="translate(740.62,1249.00) scale(0.82,1)" text-anchor="middle" font-size="31.88" fill="#000" stroke="#000" stroke-width="0.30" >w</text>
<text transform="translate(759.38,1249.00) scale(0.84,1)" text-anchor="middle" font-size="36.94" fill="#000" stroke="#000" stroke-width="0.30" >3</text>
<text transform="translate(778.12,1249.00) scale(1.0,1)" text-anchor="middle" font-size="33.00" fill="#000" stroke="#000" stroke-width="0.00" >:</text>
<text transform="translate(815.62,1249.00) scale(0.84,1)" text-anchor="middle" font-size="36.94" fill="#000" stroke="#000" stroke-width="0.30" >0</text>
<text transform="translate(830.62,1249.00) scale(1.0,1)" text-anchor="middle" font-size="33.00" fill="#000" stroke="#000" stroke-width="0.00" >.</text>
<text transform="translate(853.12,1249.00) scale(0.84,1)" text-anchor="middle" font-size="36.94" fill="#000" stroke="#000" stroke-width="0.30" >0</text>
<text transform="translate(871.88,1249.00) scale(0.84,1)" text-anchor="middle" font-size="36.94" fill="#000" stroke="#000" stroke-width="0.30" >5</text>
<line x1="438.75" y1="1287.8" x2="513.75" y2="1287.8" stroke="#ff7f0e" stroke-width="3.75" stroke-linecap="square"/>
<g transform="translate(543.75,1299.90) scale(1.0000)" fill="none" stroke="#000" stroke-width="3.1"><path d="M5.4,0 L5.4,-16.9"/><path d="M5.6,-8.5 C6.6,-13.2 10,-15.7 15.0,-15.4" stroke-width="3.0"/></g>
<text transform="translate(571.88,1299.90) scale(1.0,1)" text-anchor="middle" font-size="31.88" fill="#000" stroke="#000" stroke-width="0.30" >a</text>
<g transform="translate(581.25,1299.90) scale(1.0000)" fill="none" stroke="#000" stroke-width="3.0"><path d="M7.35,-22.9 L7.35,-6.2 C7.35,-2.6 9.3,-1.5 12,-1.5 C13.8,-1.5 15.2,-1.9 16.3,-2.6"/><path d="M0.9,-15.5 L15,-15.5" stroke-width="2.8"/></g>
<text transform="translate(609.38,1299.90) scale(1.0,1)" text-anchor="middle" font-size="34.88" fill="#000" stroke="#000" stroke-width="0.00" >i</text>
<text transform="translate(628.12,1299.90) scale(1.02,1)" text-anchor="middle" font-size="31.88" fill="#000" stroke="#000" stroke-width="0.30" >o</text>
<rect x="637.97" y="1304.40" width="17.81" height="2.06" fill="#000"/>
<text transform="translate(665.62,1299.90) scale(0.95,1)" text-anchor="middle" font-size="34.88" fill="#000" stroke="#000" stroke-width="0.00" >b</text>
<text transform="translate(684.38,1299.90) scale(1.0,1)" text-anchor="middle" font-size="31.88" fill="#000" stroke="#000" stroke-width="0.30" >e</text>
<text transform="translate(703.12,1299.90) scale(1.0,1)" text-anchor="middle" font-size="34.88" fill="#000" stroke="#000" stroke-width="0.00" >l</text>
<text transform="translate(721.88,1299.90) scale(1.02,1)" text-anchor="middle" font-size="31.88" fill="#000" stroke="#000" stroke-width="0.30" >o</text>
<text transform="translate(740.62,1299.90) scale(0.82,1)" text-anchor="middle" font-size="31.88" fill="#000" stroke="#000" stroke-width="0.30" >w</text>
<text transform="translate(759.38,1299.90) scale(0.84,1)" text-anchor="middle" font-size="36.94" fill="#000" stroke="#000" stroke-width="0.30" >5</text>
<text transform="translate(778.12,1299.90) scale(1.0,1)" text-anchor="middle" font-size="33.00" fill="#000" stroke="#000" stroke-width="0.00" >:</text>
<text transform="translate(815.62,1299.90) scale(0.84,1)" text-anchor="middle" font-size="36.94" fill="#000" stroke="#000" stroke-width="0.30" >0</text>
<text transform="translate(830.62,1299.90) scale(1.0,1)" text-anchor="middle" font-size="33.00" fill="#000" stroke="#000" stroke-width="0.00" >.</text>
<text transform="translate(853.12,1299.90) scale(0.84,1)" text-anchor="middle" font-size="36.94" fill="#000" stroke="#000" stroke-width="0.30" >2</text>
<text transform="translate(871.88,1299.90) scale(0.84,1)" text-anchor="middle" font-size="36.94" fill="#000" stroke="#000" stroke-width="0.30" >3</text>
<line x1="438.75" y1="1338.8" x2="513.75" y2="1338.8" stroke="#2ca02c" stroke-width="3.75" stroke-linecap="square"/>
<g transform="translate(543.75,1350.90) scale(1.0000)" fill="none" stroke="#000" stroke-width="3.1"><path d="M5.4,0 L5.4,-16.9"/><path d="M5.6,-8.5 C6.6,-13.2 10,-15.7 15.0,-15.4" stroke-width="3.0"/></g>
<text transform="translate(571.88,1350.90) scale(1.0,1)" text-anchor="middle" font-size="31.88" fill="#000" stroke="#000" stroke-width="0.30" >a</text>
<g transform="translate(581.25,1350.90) scale(1.0000)" fill="none" stroke="#000" stroke-width="3.0"><path d="M7.35,-22.9 L7.35,-6.2 C7.35,-2.6 9.3,-1.5 12,-1.5 C13.8,-1.5 15.2,-1.9 16.3,-2.6"/><path d="M0.9,-15.5 L15,-15.5" stroke-width="2.8"/></g>
<text transform="translate(609.38,1350.90) scale(1.0,1)" text-anchor="middle" font-size="34.88" fill="#000" stroke="#000" stroke-width="0.00" >i</text>
<text transform="translate(628.12,1350.90) scale(1.02,1)" text-anchor="middle" font-size="31.88" fill="#000" stroke="#000" stroke-width="0.30" >o</text>
<rect x="637.97" y="1355.40" width="17.81" height="2.06" fill="#000"/>
<text transform="translate(665.62,1350.90) scale(0.95,1)" text-anchor="middle" font-size="34.88" fill="#000" stroke="#000" stroke-width="0.00" >b</text>
<text transform="translate(684.38,1350.90) scale(1.0,1)" text-anchor="middle" font-size="31.88" fill="#000" stroke="#000" stroke-width="0.30" >e</text>
<text transform="translate(703.12,1350.90) scale(1.0,1)" text-anchor="middle" font-size="34.88" fill="#000" stroke="#000" stroke-width="0.00" >l</text>
<text transform="translate(721.88,1350.90) scale(1.02,1)" text-anchor="middle" font-size="31.88" fill="#000" stroke="#000" stroke-width="0.30" >o</text>
<text transform="translate(740.62,1350.90) scale(0.82,1)" text-anchor="middle" font-size="31.88" fill="#000" stroke="#000" stroke-width="0.30" >w</text>
<text transform="translate(759.38,1350.90) scale(0.84,1)" text-anchor="middle" font-size="36.94" fill="#000" stroke="#000" stroke-width="0.30" >1</text>
<text transform="translate(778.12,1350.90) scale(0.84,1)" text-anchor="middle" font-size="36.94" fill="#000" stroke="#000" stroke-width="0.30" >0</text>
<text transform="translate(796.88,1350.90) scale(1.0,1)" text-anchor="middle" font-size="33.00" fill="#000" stroke="#000" stroke-width="0.00" >:</text>
<text transform="translate(834.38,1350.90) scale(0.84,1)" text-anchor="middle" font-size="36.94" fill="#000" stroke="#000" stroke-width="0.30" >0</text>
<text transform="translate(849.38,1350.90) scale(1.0,1)" text-anchor="middle" font-size="33.00" fill="#000" stroke="#000" stroke-width="0.00" >.</text>
<text transform="translate(871.88,1350.90) scale(0.84,1)" text-anchor="middle" font-size="36.94" fill="#000" stroke="#000" stroke-width="0.30" >5</text>
<text transform="translate(890.62,1350.90) scale(0.84,1)" text-anchor="middle" font-size="36.94" fill="#000" stroke="#000" stroke-width="0.30" >4</text>
<line x1="438.75" y1="1389.8" x2="513.75" y2="1389.8" stroke="#d62728" stroke-width="3.75" stroke-linecap="square"/>
<g transform="translate(543.75,1401.90) scale(1.0000)" fill="none" stroke="#000" stroke-width="3.1"><path d="M5.4,0 L5.4,-16.9"/><path d="M5.6,-8.5 C6.6,-13.2 10,-15.7 15.0,-15.4" stroke-width="3.0"/></g>
<text transform="translate(571.88,1401.90) scale(1.0,1)" text-anchor="middle" font-size="31.88" fill="#000" stroke="#000" stroke-width="0.30" >a</text>
<g transform="translate(581.25,1401.90) scale(1.0000)" fill="none" stroke="#000" stroke-width="3.0"><path d="M7.35,-22.9 L7.35,-6.2 C7.35,-2.6 9.3,-1.5 12,-1.5 C13.8,-1.5 15.2,-1.9 16.3,-2.6"/><path d="M0.9,-15.5 L15,-15.5" stroke-width="2.8"/></g>
<text transform="translate(609.38,1401.90) scale(1.0,1)" text-anchor="middle" font-size="34.88" fill="#000" stroke="#000" stroke-width="0.00" >i</text>
<text transform="translate(628.12,1401.90) scale(1.02,1)" text-anchor="middle" font-size="31.88" fill="#000" stroke="#000" stroke-width="0.30" >o</text>
<rect x="637.97" y="1406.40" width="17.81" height="2.06" fill="#000"/>
<text transform="translate(665.62,1401.90) scale(1.0,1)" text-anchor="middle" font-size="31.88" fill="#000" stroke="#000" stroke-width="0.30" >a</text>
<text transform="translate(684.38,1401.90) scale(0.95,1)" text-anchor="middle" font-size="34.88" fill="#000" stroke="#000" stroke-width="0.00" >b</text>
<text transform="translate(703.12,1401.90) scale(1.02,1)" text-anchor="middle" font-size="31.88" fill="#000" stroke="#000" stroke-width="0.30" >o</text>
<text transform="translate(721.88,1401.90) scale(1.02,1)" text-anchor="middle" font-size="31.88" fill="#000" stroke="#000" stroke-width="0.30" >v</text>
<text transform="translate(740.62,1401.90) scale(1.0,1)" text-anchor="middle" font-size="31.88" fill="#000" stroke="#000" stroke-width="0.30" >e</text>
<text transform="translate(759.38,1401.90) scale(0.84,1)" text-anchor="middle" font-size="36.94" fill="#000" stroke="#000" stroke-width="0.30" >1</text>
<text transform="translate(778.12,1401.90) scale(0.84,1)" text-anchor="middle" font-size="36.94" fill="#000" stroke="#000" stroke-width="0.30" >0</text>
<text transform="translate(796.88,1401.90) scale(0.84,1)" text-anchor="middle" font-size="36.94" fill="#000" stroke="#000" stroke-width="0.30" >0</text>
<text transform="translate(815.62,1401.90) scale(1.0,1)" text-anchor="middle" font-size="33.00" fill="#000" stroke="#000" stroke-width="0.00" >:</text>
<text transform="translate(853.12,1401.90) scale(0.84,1)" text-anchor="middle" font-size="36.94" fill="#000" stroke="#000" stroke-width="0.30" >0</text>
<text transform="translate(868.12,1401.90) scale(1.0,1)" text-anchor="middle" font-size="33.00" fill="#000" stroke="#000" stroke-width="0.00" >.</text>
<text transform="translate(890.62,1401.90) scale(0.84,1)" text-anchor="middle" font-size="36.94" fill="#000" stroke="#000" stroke-width="0.30" >0</text>
<text transform="translate(909.38,1401.90) scale(0.84,1)" text-anchor="middle" font-size="36.94" fill="#000" stroke="#000" stroke-width="0.30" >2</text>
</svg>
</body></html>
